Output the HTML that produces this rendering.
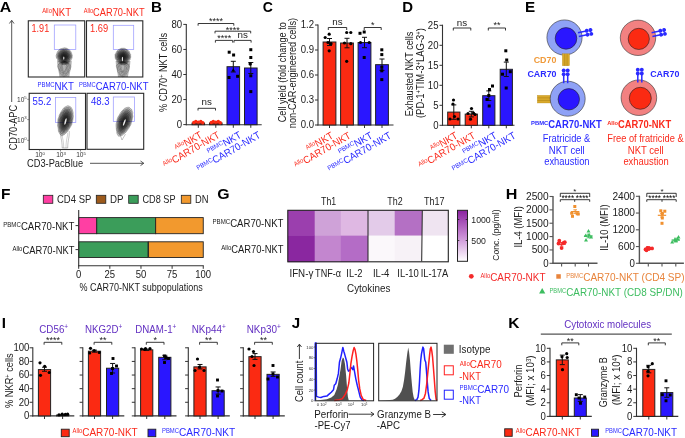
<!DOCTYPE html>
<html><head><meta charset="utf-8"><title>Figure</title>
<style>html,body{margin:0;padding:0;background:#fff;}svg{display:block;will-change:transform;}text{font-family:"Liberation Sans", sans-serif;}</style>
</head><body>
<svg width="685" height="438" viewBox="0 0 685 438" font-family="'Liberation Sans', sans-serif">
<rect width="685" height="438" fill="#fff"/>
<defs>
<radialGradient id="blobg" cx="0.5" cy="0.45" r="0.5"><stop offset="0" stop-color="#111"/><stop offset="0.35" stop-color="#2a2a2a"/><stop offset="0.7" stop-color="#777"/><stop offset="1" stop-color="#bbb" stop-opacity="0.3"/></radialGradient>
<radialGradient id="blobg2" cx="0.55" cy="0.42" r="0.55"><stop offset="0" stop-color="#0d0d0d"/><stop offset="0.3" stop-color="#262626"/><stop offset="0.65" stop-color="#666"/><stop offset="1" stop-color="#bbb" stop-opacity="0.3"/></radialGradient>
<linearGradient id="tailg" x1="0" y1="0" x2="0" y2="1"><stop offset="0" stop-color="#777"/><stop offset="1" stop-color="#ccc"/></linearGradient>
</defs>
<text x="-0.2" y="11.8" font-size="15.5" fill="#000" font-weight="bold" textLength="11.53" lengthAdjust="spacingAndGlyphs"><tspan font-size="15.5">A</tspan></text>
<line x1="11.7" y1="20.5" x2="11.7" y2="102" stroke="#444" stroke-width="0.9"/>
<path d="M9.4 23.5 L11.7 20.3 L14 23.5" fill="none" stroke="#444" stroke-width="0.9"/>
<text x="-0.46" y="0" font-size="10.58" fill="#222" textLength="45.5" lengthAdjust="spacingAndGlyphs" transform="translate(16.7 149.9) rotate(-90)"><tspan font-size="10.58">CD70-APC</tspan></text>
<text x="27.04" y="167.1" font-size="10.58" fill="#222" textLength="56.14" lengthAdjust="spacingAndGlyphs"><tspan font-size="10.58">CD3-PacBlue</tspan></text>
<line x1="90" y1="163.3" x2="143.7" y2="163.3" stroke="#444" stroke-width="0.9"/>
<path d="M140.5 161 L143.8 163.3 L140.5 165.6" fill="none" stroke="#444" stroke-width="0.9"/>
<rect x="28.3" y="20.8" width="56.4" height="56.2" fill="none" stroke="#2a2a2a" stroke-width="1.1"/>
<rect x="86.5" y="20.8" width="56.3" height="56.2" fill="none" stroke="#2a2a2a" stroke-width="1.1"/>
<rect x="29.2" y="93.3" width="56.3" height="56.2" fill="none" stroke="#2a2a2a" stroke-width="1.1"/>
<rect x="87" y="93.3" width="56.7" height="56" fill="none" stroke="#2a2a2a" stroke-width="1.1"/>
<text x="42.2" y="16" font-size="10.37" fill="#fa2a1c" textLength="28.8" lengthAdjust="spacingAndGlyphs"><tspan font-size="6.3" dy="-3.01">Allo</tspan><tspan font-size="10.37" dy="3.01">NKT</tspan></text>
<text x="83.7" y="16" font-size="10.37" fill="#fa2a1c" textLength="60.99" lengthAdjust="spacingAndGlyphs"><tspan font-size="6.3" dy="-3.01">Allo</tspan><tspan font-size="10.37" dy="3.01">CAR70-NKT</tspan></text>
<text x="37.53" y="89.6" font-size="10.37" fill="#2a2aff" textLength="36.47" lengthAdjust="spacingAndGlyphs"><tspan font-size="6.3" dy="-3.01">PBMC</tspan><tspan font-size="10.37" dy="3.01">NKT</tspan></text>
<text x="79.04" y="89.6" font-size="10.37" fill="#2a2aff" textLength="69.46" lengthAdjust="spacingAndGlyphs"><tspan font-size="6.3" dy="-3.01">PBMC</tspan><tspan font-size="10.37" dy="3.01">CAR70-NKT</tspan></text>
<text x="31.52" y="32" font-size="10.15" fill="#fa2a1c" textLength="17.7" lengthAdjust="spacingAndGlyphs"><tspan font-size="10.15">1.91</tspan></text>
<text x="90.1" y="32" font-size="10.15" fill="#fa2a1c" textLength="18.13" lengthAdjust="spacingAndGlyphs"><tspan font-size="10.15">1.69</tspan></text>
<text x="32.62" y="104.6" font-size="10.15" fill="#2a2aff" textLength="18.67" lengthAdjust="spacingAndGlyphs"><tspan font-size="10.15">55.2</tspan></text>
<text x="91.01" y="104.6" font-size="10.15" fill="#2a2aff" textLength="18.58" lengthAdjust="spacingAndGlyphs"><tspan font-size="10.15">48.3</tspan></text>
<rect x="54.3" y="25" width="21.5" height="24.5" fill="none" stroke="#9a9aff" stroke-width="0.75"/>
<rect x="113.3" y="25.3" width="20.4" height="24.3" fill="none" stroke="#9a9aff" stroke-width="0.75"/>
<rect x="55.5" y="97.5" width="20.3" height="25.1" fill="none" stroke="#9a9aff" stroke-width="0.75"/>
<rect x="113.3" y="97" width="21.2" height="24.6" fill="none" stroke="#9a9aff" stroke-width="0.75"/>
<path d="M57 60.8 C 57.5 68.8 59 71.8 59.4 76.8 L 69.4 76.8 C 69.8 71.8 71.4 68.8 71.8 60.8 Z" fill="#000" fill-opacity="0.3"/>
<path d="M64.16 61.52 L65.53 61.53 L66.52 61.96 L67.15 62.41 L68.04 62.8 L68.86 63.08 L69.78 64.31 L70.01 64.54 L70.7 65.88 L70.76 66.22 L70.71 67.73 L70.09 69.65 L68.87 71.14 L68.26 73.17 L67.37 74.26 L66.92 75.12 L66.01 75.63 L64.79 76.21 L64.44 76.54 L63.31 76.51 L62.59 75.82 L62.03 75.38 L60.77 74.25 L60.21 73.22 L59.63 71.28 L59.18 69.52 L58.21 68.29 L57.62 66.29 L57.63 65.65 L58.5 64.82 L59.06 63.9 L59.55 63.48 L60.25 62.82 L61.37 62.76 L62.09 62.2 L62.84 62.03 Z" fill="none" stroke="#222" stroke-width="0.35" opacity="0.75"/>
<path d="M64.42 62.19 L65.48 61.7 L66.02 62.21 L66.57 62.37 L67.44 62.55 L68.01 63.62 L68.59 63.85 L69.19 65.06 L69.18 65.48 L69.64 66.61 L69.55 68.15 L68.68 69.31 L68.2 71.11 L68.07 71.81 L66.8 72.98 L66.16 74.08 L65.76 74.57 L64.6 75.1 L64.2 75.35 L63.97 75.32 L62.93 74.85 L62.36 73.74 L61.87 73.42 L61.19 72.32 L60.2 70.72 L59.43 69.49 L58.96 67.52 L58.77 66.03 L58.95 65.16 L58.92 64.48 L59.39 63.94 L59.86 63.71 L60.98 62.57 L61.45 62.28 L62.38 61.77 L63.66 62.26 Z" fill="none" stroke="#222" stroke-width="0.35" opacity="0.75"/>
<path d="M64.27 61.79 L64.7 61.55 L65.61 61.88 L66.66 62.13 L66.62 63.21 L67.54 63.12 L67.97 63.67 L68.27 65.14 L68.73 65.68 L68.31 66.19 L67.99 67.85 L67.94 69.16 L67.35 69.93 L67.25 71.64 L66.76 72.44 L66.2 73.16 L65.18 73.55 L64.73 73.51 L63.92 73.82 L63.56 74.04 L63.57 73.49 L63 73.36 L62.48 72.09 L61.38 71.03 L60.87 69.91 L60.79 69.25 L60.62 67.62 L60.22 66.54 L59.83 65.65 L60.68 64.99 L60.86 64.03 L60.83 63.64 L61.47 63.09 L62.58 62.32 L62.78 62.43 L63.75 61.6 Z" fill="none" stroke="#222" stroke-width="0.35" opacity="0.75"/>
<path d="M64 61.52 L65.16 62.11 L65.08 62.33 L66.23 62.53 L66.17 62.89 L66.38 63.02 L67.36 64.17 L67.23 65.11 L67.3 65.82 L67.66 66.07 L67.02 67.25 L66.76 68.56 L66.46 69.44 L66 70.74 L65.79 71.17 L65.58 72.17 L65.05 72.65 L64.71 72.63 L64.32 72.31 L63.85 72.35 L63.09 72.55 L62.82 71.82 L62.87 71.25 L62.17 70.43 L62 69.73 L61.32 68.54 L61.18 67.23 L61.42 66.31 L61.3 65.73 L61.72 64.72 L61.71 64.05 L61.93 63.56 L62.27 62.88 L62.73 62.76 L63.4 62.37 L64.12 61.68 Z" fill="none" stroke="#222" stroke-width="0.35" opacity="0.75"/>
<path d="M64.35 62.15 L64.92 61.58 L64.68 62.03 L64.96 62.2 L65.24 62.99 L66.06 63.73 L65.76 64.22 L66.31 64.48 L66.58 65.89 L66.08 66.66 L66.1 67.18 L66.41 68.31 L65.54 68.8 L65.6 69.45 L65.1 70.06 L65.26 70.33 L64.87 71.04 L64.18 71.19 L64.4 71.41 L63.69 71.71 L64.01 71.47 L63.2 70.53 L62.89 70.43 L62.83 69.28 L62.72 69.18 L62.84 67.85 L62.14 67.52 L62.36 66.46 L62 65.16 L62.57 64.7 L62.23 64.4 L62.88 63.65 L62.68 63.14 L62.95 62.69 L63.58 61.94 L64 62.21 Z" fill="none" stroke="#222" stroke-width="0.35" opacity="0.75"/>
<path d="M64.18 47.81 L65.56 47.98 L66.58 48.26 L67.71 48.81 L68.91 49.58 L70.09 50.47 L70.77 51.47 L71.35 52.56 L71.78 53.84 L72.32 55.45 L72.14 56.79 L72.11 57.85 L71.48 59.24 L70.62 60.6 L69.77 61.51 L69.05 62.7 L67.97 63.44 L67.23 64 L66.14 64.33 L65.02 64.52 L64.09 64.92 L63.24 64.53 L62.21 64.58 L61.66 64.01 L60.44 63.14 L59.54 62.44 L58.61 61.48 L57.86 60.66 L57.52 59.3 L56.58 58.28 L56.2 56.73 L56.15 55.36 L56.68 54.08 L57.02 52.81 L57.58 51.51 L58.44 50.53 L59.37 49.44 L60.57 48.83 L61.87 48.45 L63.17 48.19 Z" fill="#000" stroke="#222" stroke-width="0.3" fill-opacity="0.21"/>
<path d="M64.41 49.07 L65.37 48.89 L66.77 49.09 L67.68 49.81 L68.3 50.56 L69.59 51.26 L70.24 52.3 L70.53 53.22 L71.15 54.52 L71.56 55.72 L71.54 57 L71.22 58.02 L70.48 58.79 L69.8 60 L69.07 61.2 L68.52 61.96 L67.74 62.72 L66.84 62.97 L66.14 63.77 L65.15 63.93 L64.38 63.78 L63.57 63.79 L62.39 63.53 L61.87 63.07 L61.04 62.86 L60.11 61.83 L59.32 61.12 L58.75 60.13 L58.05 58.81 L57.29 57.8 L57.22 56.7 L57.22 55.32 L57.23 54.24 L57.97 53.3 L58.56 52.04 L59.22 51.18 L60.05 50.2 L61.23 49.59 L62.31 49.49 L62.93 48.96 Z" fill="#000" stroke="#222" stroke-width="0.3" fill-opacity="0.21"/>
<path d="M64.46 49.99 L65.28 49.73 L66.13 50.33 L67.06 50.57 L67.88 51.12 L69.05 51.64 L69.64 52.67 L70.2 53.71 L70.25 54.82 L70.61 55.46 L70.45 56.8 L70.35 57.7 L69.74 58.7 L69.26 59.88 L68.47 60.69 L68.2 61.14 L67.51 62.08 L66.76 62.4 L65.74 62.83 L65.3 63.17 L64.23 63.16 L63.43 62.9 L62.59 63.05 L61.93 62.72 L61.17 61.86 L60.58 61.17 L59.82 60.79 L59.44 59.86 L58.75 58.98 L58.45 57.83 L58.01 56.57 L58.09 55.67 L58.34 54.7 L58.49 53.38 L59.34 52.48 L59.76 51.74 L60.44 51.22 L61.63 50.41 L62.4 50 L63.33 49.79 Z" fill="#000" stroke="#222" stroke-width="0.3" fill-opacity="0.21"/>
<path d="M64.13 50.47 L65.03 50.92 L66.03 50.8 L67.05 51.56 L67.57 51.64 L68.11 52.24 L68.75 52.97 L69.16 53.88 L69.66 55.09 L69.96 55.79 L69.86 56.81 L69.55 57.6 L69 58.42 L68.96 59.16 L68.17 60.16 L67.74 60.62 L66.81 61.2 L66.23 61.76 L65.85 62.3 L65.15 62.09 L64.07 62.5 L63.84 62.32 L63.02 61.88 L62.27 62 L61.84 61.51 L61.28 60.63 L60.24 59.92 L59.89 59.43 L59.61 58.64 L59.06 57.81 L58.68 56.83 L58.54 55.98 L58.84 55.11 L59.38 53.91 L59.58 53.06 L60.41 52.54 L60.81 51.6 L61.77 51.35 L62.51 50.8 L63.47 50.47 Z" fill="#000" stroke="#222" stroke-width="0.3" fill-opacity="0.21"/>
<path d="M64.2 51.5 L65.28 51.66 L65.98 51.77 L66.35 51.97 L67.35 52.63 L67.6 52.83 L68.18 53.78 L68.54 54.28 L68.95 55.38 L68.9 55.74 L69.02 56.76 L68.95 57.4 L68.66 58.4 L68.09 58.83 L67.85 59.53 L67.25 60.06 L66.41 60.81 L65.89 61.3 L65.43 61.21 L64.73 61.5 L64.38 61.82 L63.56 61.49 L63.03 61.6 L62.43 60.85 L61.83 60.63 L61.7 60.39 L61.1 59.87 L60.72 58.89 L59.93 58.5 L59.87 57.32 L59.58 56.74 L59.5 55.89 L59.57 54.92 L59.91 54.33 L60.64 53.51 L61.14 52.92 L61.41 52.69 L62.28 52.06 L62.59 51.77 L63.49 51.79 Z" fill="#000" stroke="#222" stroke-width="0.3" fill-opacity="0.21"/>
<path d="M64.15 52.33 L65.12 52.22 L65.49 52.77 L66.25 52.65 L66.42 53.02 L67.34 53.57 L67.66 54.41 L67.78 54.69 L68.33 55.5 L68.13 56.22 L68.21 56.69 L67.85 57.55 L68.02 58.1 L67.68 58.38 L66.93 59.14 L66.86 59.86 L66.12 59.91 L65.68 60.36 L65.46 60.45 L64.92 60.87 L64.46 60.94 L63.88 60.66 L63.27 60.54 L63.03 60.15 L62.27 60.16 L61.85 59.41 L61.31 59.18 L61.05 58.86 L60.98 58.28 L60.39 57.22 L60.1 56.8 L60.45 56.09 L60.36 55.4 L60.8 54.89 L61.19 54.39 L61.55 53.5 L62.12 53.14 L62.52 52.82 L63.18 52.46 L63.55 52.33 Z" fill="#000" stroke="#222" stroke-width="0.3" fill-opacity="0.21"/>
<path d="M64.13 53.47 L64.84 53.24 L65.24 53.7 L65.76 53.53 L66.34 54.03 L66.81 54.11 L66.88 54.89 L67.32 55.41 L67.11 55.61 L67.27 56.09 L67.74 56.84 L67.55 57.24 L67.29 57.76 L66.71 58.39 L66.73 58.48 L66.21 59.12 L65.66 59.32 L65.25 59.5 L64.93 59.89 L64.75 59.81 L64.06 59.91 L64.01 59.8 L63.45 59.7 L63.32 59.68 L62.58 59.19 L62.38 59.09 L62.16 58.48 L61.6 58.35 L61.45 57.68 L61.17 57.53 L61.01 56.83 L61.07 56.21 L61.44 55.96 L61.38 55.05 L61.83 54.58 L61.79 54.51 L62.38 54.11 L62.8 53.86 L63.29 53.28 L63.56 53.35 Z" fill="#000" stroke="#222" stroke-width="0.3" fill-opacity="0.21"/>
<path d="M64.37 54.36 L64.47 54.25 L64.98 54.29 L65.21 54.34 L65.72 54.88 L65.8 54.93 L66.39 55.48 L66.29 55.41 L66.8 56.22 L66.66 56.16 L66.91 56.74 L66.78 57.24 L66.57 57.37 L66.34 57.75 L65.91 58.38 L65.86 58.34 L65.28 58.69 L65.16 58.88 L64.68 58.96 L64.7 59.37 L64.07 59.23 L64.15 58.94 L63.9 58.89 L63.5 58.96 L63.24 58.64 L62.86 58.54 L62.61 58.29 L62.38 57.86 L61.96 57.6 L62.02 57.04 L62.03 56.94 L61.91 56.23 L62 55.79 L61.98 55.57 L62.15 55.22 L62.61 54.7 L62.96 54.46 L63.33 54.59 L63.56 54.07 L63.93 54.13 Z" fill="#000" stroke="#222" stroke-width="0.3" fill-opacity="0.21"/>
<path d="M64.53 54.86 L64.73 55.31 L64.91 55.28 L64.87 55.47 L65.24 55.6 L65.64 55.39 L65.74 55.98 L65.51 55.93 L65.95 56.09 L66.08 56.41 L66.06 56.62 L65.82 57.26 L65.56 57.18 L65.57 57.44 L65.17 57.58 L65.06 58.15 L65.14 58.29 L64.7 58.37 L64.48 58.34 L64.56 58.31 L64.49 58.43 L64.15 58.57 L63.73 58.57 L63.8 58.17 L63.7 57.98 L63.61 57.97 L63.13 57.87 L63.01 57.36 L63.02 57.07 L62.94 56.93 L62.77 57.04 L62.76 56.61 L62.68 56.01 L62.64 55.83 L63.06 55.73 L63.17 55.75 L63.18 55.24 L63.65 54.99 L63.56 55.05 L63.85 54.99 Z" fill="#000" stroke="#222" stroke-width="0.3" fill-opacity="0.21"/>
<ellipse cx="63.8" cy="58.1" rx="0.6" ry="1.6" fill="#fff" opacity="0.9"/>
<path d="M115.6 61 C 116.1 69 117.6 72 118 77 L 128 77 C 128.4 72 130 69 130.4 61 Z" fill="#000" fill-opacity="0.3"/>
<path d="M122.68 62.07 L124.08 61.83 L125.19 62.25 L125.81 62.95 L126.81 62.77 L127.48 63.72 L128.74 64.48 L128.84 64.77 L128.81 65.83 L129.35 66.38 L129.05 68.24 L128.75 70.21 L127.55 71.97 L126.65 73.15 L126.15 74.18 L125.05 75.64 L124.18 76.22 L124.09 76.36 L122.66 76.89 L122.07 76.76 L121.48 75.92 L120.24 75.26 L119.21 74.7 L119.01 73.29 L117.66 71.93 L117.6 70 L117.06 68.25 L116.28 66.18 L116.38 65.35 L116.75 65.16 L117.51 64.53 L118.17 63.42 L118.83 63 L119.93 62.62 L120.52 62.38 L122.16 61.84 Z" fill="none" stroke="#222" stroke-width="0.35" opacity="0.75"/>
<path d="M123.2 61.61 L123.63 61.86 L124.91 62.63 L125.75 62.46 L126.61 62.92 L126.75 63.93 L127.59 64.4 L128.01 65.34 L128.1 65.99 L128.36 66.79 L127.84 68.24 L127.51 69.42 L126.69 71.1 L125.97 72.61 L125.37 73.02 L124.66 74.64 L124.16 74.67 L123.22 75 L123.05 75.61 L122.36 75.55 L121.17 75.03 L120.71 74.55 L120.4 73.71 L119.15 72.58 L119.22 71.36 L118.03 69.34 L117.6 67.69 L117.88 66.75 L117.79 65.98 L118.02 64.79 L117.99 63.93 L119.05 63.37 L119.35 62.99 L119.87 62.41 L120.91 62.44 L121.87 61.93 Z" fill="none" stroke="#222" stroke-width="0.35" opacity="0.75"/>
<path d="M123.27 62 L123.91 62.16 L123.96 62.2 L124.95 62.82 L125.48 63.22 L126.15 63.38 L126.83 63.92 L127.1 64.7 L126.64 65.48 L127.31 66.88 L126.46 67.83 L126.5 69.37 L125.83 70.35 L125.48 71.71 L124.89 72.75 L124.37 72.94 L124.16 73.73 L123.14 74.19 L122.56 74.43 L122.51 74.31 L121.9 73.62 L121.18 73.08 L121.03 72.07 L120.51 71.07 L119.48 70.16 L119.61 69.13 L118.85 68.14 L118.49 66.47 L118.79 65.92 L119.16 65.08 L119.14 64.11 L119.41 63.88 L120.33 63.25 L120.54 62.55 L121.68 62.33 L121.87 62.04 Z" fill="none" stroke="#222" stroke-width="0.35" opacity="0.75"/>
<path d="M123.21 61.79 L123.19 61.91 L124.12 62.55 L124.17 62.33 L124.69 62.91 L125.29 63.34 L125.45 64 L126.19 65.14 L125.63 66.09 L125.68 66.41 L126.21 67.85 L125.75 68.64 L125.01 69.81 L124.58 70.38 L124.42 71.03 L124.03 72.28 L123.87 72.51 L123.41 72.77 L122.61 72.98 L122.42 73 L122.42 72.46 L121.74 72.24 L121.23 71.19 L121.08 70.92 L120.77 69.86 L120.52 68.83 L120.09 67.57 L119.65 66.6 L119.53 65.65 L120.21 65.13 L120.32 64.05 L120.46 63.57 L121 62.98 L121.49 62.95 L121.59 62.39 L122.58 61.98 Z" fill="none" stroke="#222" stroke-width="0.35" opacity="0.75"/>
<path d="M122.89 62.38 L122.88 62.1 L123.31 62.5 L124.25 62.62 L123.87 63.11 L124.46 63.78 L124.64 64.36 L125.04 64.98 L124.8 66.08 L124.67 66.65 L124.7 67.6 L124.32 68.63 L124.3 68.7 L124.01 69.7 L123.55 70.34 L123.62 71.08 L123.31 71.1 L122.94 71.72 L123.25 71.62 L122.41 71.76 L122.29 71.06 L121.82 71.14 L122.11 70.51 L121.59 69.83 L121.17 69.42 L121.06 68.36 L121.27 67.64 L120.87 66.34 L120.97 65.42 L121.29 64.84 L121.45 64.06 L121.27 63.41 L121.56 62.8 L121.5 62.78 L122.04 62.07 L122.39 62.05 Z" fill="none" stroke="#222" stroke-width="0.35" opacity="0.75"/>
<path d="M122.86 48.27 L124.23 48.24 L125.59 48.81 L126.31 49.32 L127.81 50.02 L128.38 50.94 L129.44 51.58 L129.78 53.23 L130.59 54.16 L130.6 55.44 L130.77 57.14 L130.42 58.08 L130.12 59.62 L129.05 60.83 L128.48 61.84 L127.64 62.85 L126.8 63.64 L125.57 64.22 L124.8 64.73 L123.81 65.09 L122.93 64.88 L121.82 64.72 L121.01 64.39 L120.06 63.95 L119.14 63.47 L118.26 62.84 L117.13 61.87 L116.56 60.66 L115.96 59.64 L115.24 58.21 L115.13 56.79 L115.07 55.69 L115.06 54.34 L115.86 53.22 L116.34 52.07 L117.25 50.77 L118.4 49.65 L119.38 49.22 L120.35 48.81 L121.58 48.3 Z" fill="#000" stroke="#222" stroke-width="0.3" fill-opacity="0.21"/>
<path d="M122.91 49.22 L123.88 49.15 L125.09 49.49 L126.33 49.84 L127.3 50.54 L127.99 51.29 L128.73 52.58 L129.39 53.55 L129.66 54.46 L129.91 55.8 L130.17 57.14 L129.5 58.24 L129.41 59.25 L128.36 60.17 L127.62 61.08 L127.3 62.15 L126.36 62.97 L125.65 63.47 L124.65 63.91 L123.85 64.16 L122.99 64.06 L122.14 64.09 L121.34 63.65 L120.2 63.18 L119.66 63.03 L118.79 62.03 L118.09 61.38 L117.24 60.15 L116.48 59.19 L115.98 58.09 L115.77 57.22 L115.57 55.79 L115.82 54.36 L116.64 53.44 L117.28 52.32 L117.57 51.34 L118.71 50.81 L119.87 49.93 L120.63 49.27 L121.85 49.03 Z" fill="#000" stroke="#222" stroke-width="0.3" fill-opacity="0.21"/>
<path d="M122.73 49.72 L123.65 50.14 L124.69 50.54 L125.6 50.91 L126.48 51.06 L127.54 51.89 L128.19 52.71 L128.38 53.94 L129.09 55 L129.34 55.69 L129.36 57.1 L128.95 58.22 L128.39 59.21 L128.06 59.66 L127.07 60.84 L126.78 61.32 L125.81 62.29 L124.99 62.88 L124.4 62.87 L123.59 63.36 L122.87 63.49 L121.97 63.47 L121.32 63.16 L120.71 62.66 L119.84 62.32 L119.4 61.67 L118.52 60.66 L117.63 60.14 L117.39 59.14 L116.74 58.05 L116.74 57.17 L116.63 55.8 L116.78 55.02 L117.14 53.9 L117.77 53.06 L118.53 51.91 L118.89 51.19 L119.96 50.77 L121.08 50.5 L121.67 50.21 Z" fill="#000" stroke="#222" stroke-width="0.3" fill-opacity="0.21"/>
<path d="M123.06 51.02 L123.81 50.8 L124.81 51.3 L125.53 51.72 L126.12 51.81 L126.89 52.79 L127.28 53.5 L128.11 54.07 L128.28 55.19 L128.41 55.89 L128.38 57.13 L128.36 57.86 L127.61 58.88 L127.46 59.41 L126.8 60.49 L126.35 60.97 L125.51 61.58 L124.72 61.84 L124.06 62.43 L123.49 62.56 L122.85 62.61 L122.06 62.3 L121.83 62.26 L120.73 62.06 L120.42 61.36 L119.69 60.88 L119.04 60.05 L118.24 59.79 L118.17 58.72 L117.62 57.76 L117.44 56.96 L117.59 56.17 L117.73 55.33 L117.79 53.97 L118.22 53.22 L118.73 52.42 L119.64 52.2 L120.34 51.74 L121.37 50.92 L122.07 50.86 Z" fill="#000" stroke="#222" stroke-width="0.3" fill-opacity="0.21"/>
<path d="M122.71 51.95 L123.53 51.82 L124.45 52.21 L125.16 52.24 L125.7 52.56 L126.53 53.51 L126.64 53.67 L127.05 54.53 L127.67 55.57 L127.81 55.95 L127.84 57.1 L127.53 57.99 L126.89 58.31 L126.82 59.4 L126.3 59.72 L125.74 60.52 L124.95 60.8 L124.47 61.09 L124.02 61.4 L123.33 61.56 L122.99 61.56 L122.44 61.59 L121.54 61.78 L121.07 61.49 L120.83 61.08 L119.93 60.37 L119.39 60.04 L119.28 59.24 L118.66 58.4 L118.51 57.74 L118.16 56.82 L118.02 55.95 L118.44 55.4 L118.45 54.79 L118.9 53.85 L119.33 53.15 L120.25 52.65 L120.55 52.29 L121.33 52.18 L121.96 52.02 Z" fill="#000" stroke="#222" stroke-width="0.3" fill-opacity="0.21"/>
<path d="M122.68 52.8 L123.61 52.51 L124.12 52.71 L124.59 52.93 L125.18 53.69 L125.98 54.1 L125.93 54.31 L126.66 54.78 L126.82 55.54 L127.09 56.07 L127.05 56.92 L126.52 57.38 L126.58 58.25 L125.9 58.78 L125.87 59.21 L125.26 59.65 L124.62 60.37 L124.42 60.41 L123.63 60.6 L123.43 60.95 L122.79 60.85 L122.48 61.05 L122.11 60.85 L121.34 60.35 L121.14 60.19 L120.68 59.61 L120.29 59.27 L119.91 59 L119.39 57.99 L119.31 57.61 L119.09 56.88 L118.79 56.48 L119.03 55.47 L119.27 55.05 L119.42 54.42 L120.04 53.9 L120.36 53.55 L121.24 53.26 L121.57 52.92 L122.21 52.78 Z" fill="#000" stroke="#222" stroke-width="0.3" fill-opacity="0.21"/>
<path d="M122.68 53.67 L123.63 53.52 L123.9 53.67 L124.37 53.62 L125.01 54.01 L125 54.31 L125.36 55.09 L125.52 55.2 L126.04 55.76 L125.82 56.5 L126.14 57.01 L126.04 57.3 L125.89 58.1 L125.2 58.26 L125.11 58.88 L124.65 59.07 L124.35 59.41 L124.08 60.03 L123.48 60.08 L123.4 59.99 L123.06 60.42 L122.47 60.12 L122.32 60.06 L121.72 60.07 L121.54 59.51 L120.91 59.18 L120.66 59.12 L120.52 58.66 L120.25 58.16 L119.64 57.51 L119.93 57.22 L119.61 56.41 L119.92 55.84 L120.06 55.19 L120.28 54.93 L120.4 54.33 L121.25 54.29 L121.67 53.93 L122.07 53.84 L122.59 53.29 Z" fill="#000" stroke="#222" stroke-width="0.3" fill-opacity="0.21"/>
<path d="M122.97 54.24 L123.36 54.28 L123.66 54.7 L124.05 54.52 L124.32 54.83 L124.82 55.03 L124.74 55.52 L124.85 55.85 L125.41 56.19 L125.15 56.57 L125.32 56.82 L124.99 57.19 L124.9 57.69 L124.69 57.96 L124.35 58.43 L124.47 58.75 L124.06 59.02 L123.6 59.24 L123.45 59.31 L123.24 59.35 L122.81 59.27 L122.48 59.38 L122.28 59.33 L121.81 59.06 L121.96 58.81 L121.53 58.69 L121.14 58.65 L120.9 58.23 L120.62 57.53 L120.81 57.35 L120.28 56.94 L120.5 56.7 L120.42 56.05 L120.99 55.92 L120.79 55.37 L121.13 55.22 L121.55 55.04 L121.97 54.66 L122.28 54.61 L122.65 54.38 Z" fill="#000" stroke="#222" stroke-width="0.3" fill-opacity="0.21"/>
<path d="M123.04 55.34 L123.36 55.08 L123.58 55.08 L123.76 55.47 L123.84 55.81 L124.07 55.71 L124.34 56.15 L124.38 56.14 L124.4 56.44 L124.59 56.62 L124.45 57.03 L124.36 57.16 L124.45 57.67 L124.16 57.7 L123.85 57.84 L123.65 58.17 L123.69 58.09 L123.67 58.34 L123.45 58.69 L123.32 58.43 L122.86 58.81 L122.47 58.35 L122.56 58.52 L122.55 58.56 L122.17 58.54 L121.98 58.14 L121.89 57.89 L121.57 57.77 L121.42 57.72 L121.47 57.26 L121.1 56.94 L121.27 56.76 L121.42 56.65 L121.71 56.19 L121.58 56.03 L122.02 55.68 L121.97 55.73 L122.01 55.34 L122.64 55.49 L122.66 55.07 Z" fill="#000" stroke="#222" stroke-width="0.3" fill-opacity="0.21"/>
<ellipse cx="122.4" cy="59.1" rx="0.6" ry="2.4" fill="#fff" opacity="0.9"/>
<path d="M60.2 131 C 60.2 137 62.2 140 62.2 148 L 67.7 148 C 67.7 140 69.7 137 69.2 131" fill="none" stroke="#555" stroke-width="0.35"/>
<path d="M61.7 133 C 61.7 137 63.7 139 63.7 148" fill="none" stroke="#666" stroke-width="0.3"/>
<path d="M67.7 133 C 67.7 137 66 139 66 148" fill="none" stroke="#666" stroke-width="0.3"/>
<path d="M69.12 106.1 L70.03 106.64 L71.02 107.08 L71.45 107.92 L72.24 109.32 L72.62 110.61 L73.13 112.57 L73.14 114.6 L73.41 116.18 L73.07 118.61 L72.72 120.7 L72.16 122.64 L71.69 124.86 L70.7 126.57 L69.54 128.53 L68.33 130.21 L67.32 131.91 L66.32 132.92 L65.07 133.8 L64.38 134.65 L63.1 135.14 L62.35 135.76 L61.59 135.72 L60.69 134.93 L60.33 134.53 L59.72 133.62 L58.95 132.33 L58.4 131.2 L58.34 129.34 L58 127.5 L57.58 125.72 L57.76 123.74 L57.79 121.41 L57.95 118.96 L58.79 117.31 L59.23 115.22 L60.4 113.07 L61.18 111.6 L62.17 110.02 L63.22 108.38 L64.61 107.27 L65.49 106.73 L66.73 106.21 L67.8 105.67 Z" fill="#000" stroke="#222" stroke-width="0.3" fill-opacity="0.2"/>
<path d="M68.54 107.3 L69.71 107.79 L70.34 108.29 L70.98 109.31 L71.54 110.26 L71.76 111.94 L72.25 113.21 L72.34 114.9 L72.41 116.59 L72.45 118.68 L71.88 120.73 L71.49 122.45 L71.11 124.26 L69.98 126.28 L69.3 127.63 L68.04 129.34 L67.03 130.8 L65.97 131.94 L65.25 132.58 L64.32 133.25 L63.58 133.82 L62.84 134.23 L61.9 133.96 L61.36 133.67 L60.91 133.09 L60.16 132.42 L59.55 131.44 L59.22 130.11 L59.03 128.48 L58.73 126.7 L58.38 125.26 L58.41 123.31 L58.37 121.31 L58.67 119.37 L59.24 117.24 L59.89 115.49 L60.52 113.97 L61.49 112.25 L62.69 111.1 L63.66 109.94 L64.39 108.59 L65.34 108.05 L66.71 107.51 L67.56 107.44 Z" fill="#000" stroke="#222" stroke-width="0.3" fill-opacity="0.2"/>
<path d="M68.33 108.87 L69.17 109.26 L69.8 109.72 L70.08 110.8 L70.92 111.78 L71.06 112.57 L71.38 114.02 L71.57 115.62 L71.47 117.16 L71.66 118.85 L71.47 120.78 L71.08 122.34 L70.22 124.11 L69.49 125.3 L68.81 127.18 L67.76 128.09 L67.09 129.63 L65.87 130.38 L64.99 131.5 L64.21 132.22 L63.82 132.31 L63.05 132.65 L62.38 132.83 L61.65 132.15 L61.41 131.88 L60.9 131.28 L60.38 130.37 L60.02 129.03 L59.43 127.76 L59.42 126.25 L59.56 124.54 L59.44 122.81 L59.36 121.46 L59.33 119.56 L60.15 117.99 L60.59 116.12 L61.02 114.58 L61.98 113.13 L62.78 111.84 L63.79 111.08 L64.52 109.95 L65.56 109.44 L66.69 109.03 L67.21 109.05 Z" fill="#000" stroke="#222" stroke-width="0.3" fill-opacity="0.2"/>
<path d="M67.64 110.46 L68.39 110.89 L69.13 111.38 L69.49 111.99 L70.18 112.81 L70.56 114.06 L70.56 114.9 L70.82 116.2 L70.68 117.61 L70.59 119.3 L70.57 120.55 L70.14 122.22 L69.61 123.47 L68.82 124.7 L68.45 126.43 L67.26 127.47 L66.94 128.55 L65.76 129.31 L65.21 129.95 L64.58 130.44 L64.03 131.16 L63.23 131.45 L62.76 131.09 L62.07 130.74 L61.42 130.58 L61.47 129.81 L60.75 129.06 L60.73 128.28 L60.16 126.98 L60.3 125.75 L60 124.04 L60.18 122.7 L59.97 121.26 L60.07 119.89 L60.53 118.01 L61.13 116.9 L61.85 115.63 L62.53 114.52 L63.12 113.16 L63.75 112.08 L64.78 111.27 L65.63 110.76 L66.22 110.77 L66.94 110.13 Z" fill="#000" stroke="#222" stroke-width="0.3" fill-opacity="0.2"/>
<path d="M67.46 111.82 L68.21 112.01 L68.69 112.86 L69.18 113.24 L69.3 114.04 L69.74 114.85 L69.86 115.85 L70.08 117.2 L70.29 118.11 L69.88 119.44 L69.83 120.71 L69.41 121.84 L68.92 123.23 L68.61 124.67 L67.93 125.78 L67.37 126.62 L66.7 127.22 L65.92 128.24 L65.1 128.81 L64.82 129.33 L64.13 129.53 L63.38 129.93 L62.83 129.52 L62.68 129.52 L61.97 129.18 L61.76 128.62 L61.48 127.89 L61.31 126.99 L60.9 125.84 L61.07 125.01 L60.55 123.88 L60.67 122.28 L60.82 121.1 L60.88 119.95 L61.11 118.65 L61.51 117.39 L62.31 116.08 L62.8 115 L63.34 114.45 L64.08 113.59 L64.93 112.67 L65.67 112.51 L65.91 112.15 L66.8 111.74 Z" fill="#000" stroke="#222" stroke-width="0.3" fill-opacity="0.2"/>
<path d="M67.29 113.57 L67.74 113.54 L68.2 113.86 L68.28 114.44 L68.47 115.14 L68.85 115.77 L69.25 116.74 L69.41 117.79 L69.42 118.77 L69.33 119.97 L68.83 120.89 L68.68 122 L68.42 123.07 L67.72 123.74 L67.43 125 L66.99 125.39 L66.38 126.15 L65.72 127.13 L64.97 127.66 L64.82 127.81 L64.09 128.11 L63.94 128.38 L63.26 128 L62.79 128.21 L62.53 127.78 L62.27 127.4 L62.13 126.55 L62.1 126.09 L61.8 125.37 L61.88 124.1 L61.49 123.1 L61.44 122.43 L61.72 120.99 L61.42 120.22 L62.01 119.01 L62.31 117.85 L62.89 117.05 L63.36 116.28 L63.53 115.26 L64.08 114.89 L64.93 113.98 L65.27 113.68 L65.96 113.57 L66.51 113.34 Z" fill="#000" stroke="#222" stroke-width="0.3" fill-opacity="0.2"/>
<path d="M66.45 114.96 L67.07 114.89 L67.37 115.66 L67.58 115.6 L68.13 116.24 L68.1 116.9 L68.23 117.61 L68.39 118.58 L68.73 118.99 L68.37 120.13 L68.4 121.03 L68.12 121.8 L67.7 122.39 L67.45 123.5 L67.13 124.14 L66.38 124.77 L66.18 125.3 L65.71 125.72 L65.24 126.16 L64.61 126.39 L64.28 126.95 L64.08 126.77 L63.66 126.66 L63.43 126.49 L62.91 126.55 L62.94 126.03 L62.81 125.5 L62.47 124.77 L62.36 124.24 L62.43 123.68 L62.49 122.81 L62.42 122.09 L62.09 120.94 L62.31 120.53 L62.47 119.55 L62.79 118.79 L63 117.79 L63.82 117.08 L63.95 116.26 L64.32 115.83 L65.04 115.44 L65.36 115.07 L65.84 115.22 L66.38 114.81 Z" fill="#000" stroke="#222" stroke-width="0.3" fill-opacity="0.2"/>
<path d="M66.38 116.74 L66.72 116.42 L66.99 117.04 L67.08 116.92 L67.16 117.47 L67.63 118.06 L67.8 118.36 L67.51 119.11 L67.71 119.59 L67.69 120.19 L67.29 120.79 L67.12 121.54 L67.02 122.11 L66.89 122.6 L66.54 123.01 L66.38 123.83 L66.14 124.04 L65.55 124.71 L65.17 124.68 L64.78 124.93 L64.8 125.14 L64.51 125.38 L64.12 125.41 L63.9 125.35 L63.76 125 L63.66 124.71 L63.44 124.6 L63.39 123.96 L63.2 123.78 L63.05 122.86 L62.95 122.59 L62.85 121.47 L62.96 121.18 L63.2 120.43 L63.5 119.75 L63.62 119.05 L63.52 118.4 L63.78 118.06 L64.37 117.49 L64.87 117.23 L64.85 116.72 L65.39 116.91 L65.57 116.25 L66.17 116.37 Z" fill="#000" stroke="#222" stroke-width="0.3" fill-opacity="0.2"/>
<path d="M66.18 118.05 L66.23 118.01 L66.47 118.23 L66.34 118.59 L66.39 118.73 L66.48 118.98 L66.68 119.47 L66.59 119.65 L66.72 120.27 L66.99 120.61 L66.62 120.77 L66.53 121.3 L66.37 121.58 L66.38 122.24 L65.91 122.72 L65.71 122.83 L65.42 123.27 L65.62 123.32 L65.29 123.79 L64.92 123.65 L64.76 124.06 L64.45 123.97 L64.53 123.9 L64.32 124.04 L64.01 123.87 L63.98 123.65 L64.19 123.19 L64.01 123.29 L63.78 122.42 L63.52 122.5 L63.44 122.06 L63.52 121.57 L63.57 120.86 L63.9 120.47 L63.76 120.4 L64.09 120.02 L64.49 119.26 L64.23 119.18 L64.75 118.56 L64.86 118.36 L65.07 118.08 L64.99 118.3 L65.38 118.17 L65.56 117.92 Z" fill="#000" stroke="#222" stroke-width="0.3" fill-opacity="0.2"/>
<ellipse cx="65.5" cy="121.5" rx="0.8" ry="3.4" fill="#fff" opacity="0.9" transform="rotate(14 65.5 121.5)"/>
<path d="M119.5 133 L 122 140 L 125.5 134" fill="none" stroke="#555" stroke-width="0.35"/>
<path d="M129.14 107.34 L130.05 107.98 L130.84 108.79 L131.78 109.62 L132.15 111.09 L132.78 112.65 L132.51 114.55 L132.86 116.43 L132.48 118.06 L132.13 120.08 L131.42 122.36 L130.9 124.54 L129.93 126.17 L128.82 128.33 L127.55 129.95 L126.29 131.72 L125.17 133 L123.8 133.89 L122.53 135.15 L121.53 135.56 L120.59 135.88 L119.99 136.08 L118.85 136.31 L118.04 135.69 L117.57 134.84 L117.03 133.78 L116.83 132.97 L116.7 131.17 L116.37 129.58 L116.23 127.83 L116.03 125.98 L116.08 123.74 L116.8 121.66 L117.01 119.72 L117.72 117.44 L118.96 115.45 L119.99 113.63 L121.01 112.05 L122.33 110.5 L123.51 109.38 L124.55 108.38 L125.75 107.85 L127.08 107.41 L128.27 107.22 Z" fill="#000" stroke="#222" stroke-width="0.3" fill-opacity="0.2"/>
<path d="M128.7 108.68 L129.81 109.44 L130.35 110.08 L131.13 110.95 L131.19 112.3 L131.66 113.64 L131.94 115.38 L132.1 116.68 L131.56 118.76 L131.56 120.37 L130.75 122.21 L130.1 124.14 L129.46 126.04 L128.33 127.4 L127.05 129.34 L126.16 130.53 L124.87 131.88 L124.02 132.68 L122.9 133.61 L121.86 134.15 L120.88 134.56 L120.13 134.55 L119.23 134.67 L118.61 134.09 L118.37 133.62 L117.75 132.66 L117.67 131.56 L117.19 130.57 L116.89 128.78 L117.07 127.31 L117 125.18 L117.11 123.47 L117.5 121.57 L117.67 119.78 L118.66 117.86 L119.27 116.14 L120.54 114.41 L121.5 113.18 L122.31 111.75 L123.5 110.37 L124.77 109.73 L125.75 109.13 L126.96 108.97 L127.59 108.66 Z" fill="#000" stroke="#222" stroke-width="0.3" fill-opacity="0.2"/>
<path d="M128.23 110.32 L129.16 110.77 L129.56 111.57 L130.14 112.23 L130.53 113.45 L130.89 114.66 L131.01 115.67 L131.05 117.46 L130.9 119.17 L130.4 120.46 L129.86 122.42 L129.45 123.76 L128.83 125.61 L127.57 126.99 L126.93 128.36 L125.59 129.58 L124.78 130.69 L124.03 131.83 L123.16 132.25 L121.97 132.89 L120.94 133.4 L120.47 133.23 L119.85 133.13 L119.5 133.03 L118.89 132.35 L118.3 131.44 L118.29 130.83 L118.15 129.39 L117.73 127.84 L117.77 126.57 L117.75 125.02 L117.94 123.32 L118.3 121.58 L118.62 120.07 L118.92 118.17 L119.89 116.74 L120.76 115.25 L121.46 114.1 L122.44 112.9 L123.69 111.96 L124.46 111.3 L125.46 110.73 L126.31 110.14 L127.55 109.99 Z" fill="#000" stroke="#222" stroke-width="0.3" fill-opacity="0.2"/>
<path d="M127.95 111.67 L128.47 112.03 L129.12 112.82 L129.54 113.51 L129.81 114.49 L129.95 115.28 L130.33 116.55 L130.35 117.91 L129.85 119.12 L129.77 121.09 L129.28 122.36 L128.68 123.92 L128.28 124.97 L127.09 126.38 L126.2 127.62 L125.55 128.46 L124.79 129.51 L123.96 130.25 L123.28 131.04 L122.52 131.44 L121.66 132.12 L121 131.72 L120.33 131.91 L119.79 131.55 L119.33 131 L119.29 130.41 L119.05 129.39 L118.92 128.39 L118.69 127.65 L118.72 126.13 L118.47 124.55 L118.76 123.24 L119.11 121.6 L119.06 120.4 L119.75 118.83 L120.24 117.19 L120.94 116.3 L122.12 114.93 L123.03 113.84 L123.58 113.37 L124.34 112.65 L125.5 111.81 L126.12 111.67 L126.82 111.73 Z" fill="#000" stroke="#222" stroke-width="0.3" fill-opacity="0.2"/>
<path d="M126.98 113.34 L127.72 113.33 L128.32 113.86 L128.6 114.83 L128.98 115.47 L128.91 116.32 L129.02 117.42 L129.04 118.53 L129.07 119.67 L129.03 120.86 L128.35 122.41 L128.03 123.65 L127.72 124.71 L126.76 125.49 L126.37 126.64 L125.36 127.69 L124.45 128.42 L123.73 129.16 L123.22 129.7 L122.41 130.08 L121.86 130.21 L121.21 130.66 L120.86 130.64 L120.2 130.33 L120.1 129.92 L119.86 129.31 L119.46 128.54 L119.34 127.41 L119.15 126.45 L119.34 125.37 L119.57 124.15 L119.49 122.92 L119.58 121.9 L120 120.31 L120.19 119.26 L121.2 117.95 L121.55 117.1 L122.38 115.98 L123.08 115.16 L123.95 114.24 L124.64 113.86 L125.19 113.21 L125.72 113.25 L126.7 113 Z" fill="#000" stroke="#222" stroke-width="0.3" fill-opacity="0.2"/>
<path d="M126.64 114.52 L127.02 114.79 L127.36 115.56 L128.04 116.12 L128.1 116.55 L128.34 117.56 L128.46 118.29 L128.2 119.13 L128.38 120.32 L127.85 121.19 L127.81 122.03 L127.67 123.43 L127.13 124.08 L126.46 125.38 L125.92 126.14 L125.25 126.93 L124.57 127.4 L124.01 128.19 L123.54 128.44 L122.99 128.91 L122.56 128.93 L122 129.33 L121.26 129.16 L121.01 128.65 L120.82 128.36 L120.48 128.2 L120.41 127.52 L120.12 126.77 L120.23 125.95 L120.24 125.12 L120.13 123.69 L120.19 123.04 L120.22 121.81 L120.63 120.93 L120.7 119.62 L121.25 118.47 L122.1 117.84 L122.56 117 L123.08 116.11 L123.6 115.8 L124.44 115.11 L124.81 114.67 L125.67 114.66 L126.15 114.78 Z" fill="#000" stroke="#222" stroke-width="0.3" fill-opacity="0.2"/>
<path d="M125.91 116.2 L126.22 116.45 L126.71 116.53 L127.32 117.13 L127.09 117.78 L127.41 118.46 L127.44 118.93 L127.7 119.78 L127.69 120.44 L127.48 121.23 L127.15 121.94 L126.55 123.17 L126.29 123.91 L125.81 124.38 L125.22 125.12 L125.08 125.85 L124.28 126.51 L124.08 126.94 L123.24 127.16 L122.92 127.66 L122.53 127.68 L122.35 127.65 L121.93 127.72 L121.86 127.54 L121.29 127.39 L120.98 126.89 L121.16 126.37 L120.9 125.83 L121.04 125.23 L121.06 124.14 L120.86 123.32 L121.09 122.95 L120.87 121.82 L121.33 120.79 L121.46 120.27 L122.03 119.31 L122.51 118.61 L122.84 117.97 L123.49 117.57 L123.89 117.07 L124.14 116.75 L124.84 116.41 L125.2 115.93 L125.68 116.26 Z" fill="#000" stroke="#222" stroke-width="0.3" fill-opacity="0.2"/>
<path d="M125.75 117.61 L125.7 117.73 L126.35 117.93 L126.48 118.23 L126.45 118.49 L126.49 119.11 L126.76 120.01 L126.5 120.13 L126.82 120.81 L126.38 121.44 L126.15 121.95 L126.06 122.69 L126.03 123.3 L125.22 124.01 L124.98 124.53 L124.7 124.99 L124.28 125.05 L124.07 125.63 L123.59 125.97 L123.43 126.03 L122.83 126.39 L122.75 126.17 L122.56 126.14 L122.46 125.94 L122.22 125.98 L121.79 125.78 L121.75 125.07 L121.52 124.74 L121.76 124.42 L121.56 123.86 L121.51 122.98 L121.69 122.76 L121.82 121.99 L122.06 121.24 L122.33 120.82 L122.39 119.96 L122.93 119.48 L122.89 119.12 L123.48 118.58 L123.85 118.42 L124.07 117.78 L124.39 117.59 L124.88 117.76 L125.34 117.63 Z" fill="#000" stroke="#222" stroke-width="0.3" fill-opacity="0.2"/>
<path d="M125 119.11 L125.08 119.31 L125.49 119.56 L125.35 119.58 L125.76 119.87 L125.83 120.39 L125.8 120.67 L125.75 121.05 L125.5 121.28 L125.71 121.75 L125.5 121.84 L125.38 122.68 L125.12 122.71 L124.89 123.01 L124.71 123.84 L124.62 123.88 L124.37 124 L124.15 124.38 L123.48 124.56 L123.38 124.56 L123.12 124.71 L123.11 125 L122.7 124.89 L122.7 124.54 L122.81 124.54 L122.53 124.41 L122.36 124.25 L122.29 123.97 L122.59 123.6 L122.17 123.21 L122.22 122.68 L122.51 122.12 L122.55 122.05 L122.67 121.46 L122.76 121.13 L122.77 120.82 L123.36 120.56 L123.65 120 L123.95 119.59 L123.94 119.29 L124.09 119.35 L124.49 119.15 L124.6 118.89 L124.84 118.93 Z" fill="#000" stroke="#222" stroke-width="0.3" fill-opacity="0.2"/>
<ellipse cx="124.3" cy="122.5" rx="0.8" ry="3.4" fill="#fff" opacity="0.9" transform="rotate(20 124.3 122.5)"/>
<text x="17.0" y="101.7" font-size="6.6" fill="#333">10<tspan font-size="4.3" dy="-2.6">5</tspan></text>
<line x1="27.2" y1="99.3" x2="29.2" y2="99.3" stroke="#444" stroke-width="0.6"/>
<text x="17.0" y="122" font-size="6.6" fill="#333">10<tspan font-size="4.3" dy="-2.6">3</tspan></text>
<line x1="27.2" y1="119.6" x2="29.2" y2="119.6" stroke="#444" stroke-width="0.6"/>
<text x="17.0" y="142.7" font-size="6.6" fill="#333">10<tspan font-size="4.3" dy="-2.6">0</tspan></text>
<line x1="27.2" y1="140.3" x2="29.2" y2="140.3" stroke="#444" stroke-width="0.6"/>
<text x="40" y="157.3" font-size="6.6" fill="#333" text-anchor="middle">10<tspan font-size="4.3" dy="-2.6">0</tspan></text>
<line x1="39.5" y1="149.5" x2="39.5" y2="151.5" stroke="#444" stroke-width="0.6"/>
<text x="61" y="157.3" font-size="6.6" fill="#333" text-anchor="middle">10<tspan font-size="4.3" dy="-2.6">3</tspan></text>
<line x1="60.5" y1="149.5" x2="60.5" y2="151.5" stroke="#444" stroke-width="0.6"/>
<text x="81" y="157.3" font-size="6.6" fill="#333" text-anchor="middle">10<tspan font-size="4.3" dy="-2.6">5</tspan></text>
<line x1="80.5" y1="149.5" x2="80.5" y2="151.5" stroke="#444" stroke-width="0.6"/>
<text x="151.02" y="11.8" font-size="15.5" fill="#000" font-weight="bold" textLength="10.92" lengthAdjust="spacingAndGlyphs"><tspan font-size="15.5">B</tspan></text>
<line x1="186.3" y1="23.9" x2="186.3" y2="125.2" stroke="#333" stroke-width="1.1"/>
<line x1="185.8" y1="124.7" x2="261.7" y2="124.7" stroke="#333" stroke-width="1.1"/>
<line x1="183.3" y1="124.6" x2="186.3" y2="124.6" stroke="#333" stroke-width="1"/>
<text x="182.2" y="128" font-size="10.22" fill="#1a1a1a" text-anchor="end" textLength="5.34" lengthAdjust="spacingAndGlyphs">0</text>
<line x1="183.3" y1="99.55" x2="186.3" y2="99.55" stroke="#333" stroke-width="1"/>
<text x="182.2" y="102.95" font-size="10.22" fill="#1a1a1a" text-anchor="end" textLength="10.68" lengthAdjust="spacingAndGlyphs">20</text>
<line x1="183.3" y1="74.5" x2="186.3" y2="74.5" stroke="#333" stroke-width="1"/>
<text x="182.2" y="77.9" font-size="10.22" fill="#1a1a1a" text-anchor="end" textLength="10.68" lengthAdjust="spacingAndGlyphs">40</text>
<line x1="183.3" y1="49.45" x2="186.3" y2="49.45" stroke="#333" stroke-width="1"/>
<text x="182.2" y="52.85" font-size="10.22" fill="#1a1a1a" text-anchor="end" textLength="10.68" lengthAdjust="spacingAndGlyphs">60</text>
<line x1="183.3" y1="24.4" x2="186.3" y2="24.4" stroke="#333" stroke-width="1"/>
<text x="182.2" y="27.8" font-size="10.22" fill="#1a1a1a" text-anchor="end" textLength="10.68" lengthAdjust="spacingAndGlyphs">80</text>
<line x1="198.3" y1="124.7" x2="198.3" y2="127.8" stroke="#333" stroke-width="1"/>
<line x1="215.8" y1="124.7" x2="215.8" y2="127.8" stroke="#333" stroke-width="1"/>
<line x1="233.3" y1="124.7" x2="233.3" y2="127.8" stroke="#333" stroke-width="1"/>
<line x1="250.8" y1="124.7" x2="250.8" y2="127.8" stroke="#333" stroke-width="1"/>
<rect x="192.05" y="123.1" width="12.5" height="1.6" fill="#fb2a12" stroke="#222" stroke-width="1"/>
<rect x="209.55" y="122.97" width="12.5" height="1.73" fill="#fb2a12" stroke="#222" stroke-width="1"/>
<rect x="227" y="66.7" width="12.6" height="58" fill="#2a16ff" stroke="#222" stroke-width="1"/>
<rect x="244.5" y="68" width="12.6" height="56.7" fill="#2a16ff" stroke="#222" stroke-width="1"/>
<line x1="233.3" y1="72" x2="233.3" y2="61.3" stroke="#111" stroke-width="1"/>
<line x1="230.8" y1="61.3" x2="235.8" y2="61.3" stroke="#111" stroke-width="1"/>
<line x1="230.8" y1="72" x2="235.8" y2="72" stroke="#111" stroke-width="1"/>
<line x1="250.8" y1="73.5" x2="250.8" y2="62.5" stroke="#111" stroke-width="1"/>
<line x1="248.3" y1="62.5" x2="253.3" y2="62.5" stroke="#111" stroke-width="1"/>
<line x1="248.3" y1="73.5" x2="253.3" y2="73.5" stroke="#111" stroke-width="1"/>
<rect x="227.7" y="50.7" width="3" height="3" fill="#000"/>
<rect x="232.1" y="53.5" width="3" height="3" fill="#000"/>
<rect x="227.5" y="76" width="3" height="3" fill="#000"/>
<rect x="236.1" y="74.8" width="3" height="3" fill="#000"/>
<path d="M233.3 68.22 L235.2 71.52 L231.4 71.52 Z" fill="#000"/>
<rect x="249.3" y="48.2" width="3" height="3" fill="#000"/>
<rect x="249.3" y="56" width="3" height="3" fill="#000"/>
<rect x="249.3" y="74.3" width="3" height="3" fill="#000"/>
<rect x="249.3" y="90.1" width="3" height="3" fill="#000"/>
<circle cx="250.2" cy="64" r="1.7" fill="#000"/>
<circle cx="193.8" cy="122.5" r="1.7" fill="#fb2a12"/>
<circle cx="195.8" cy="121.5" r="1.7" fill="#fb2a12"/>
<circle cx="198.3" cy="122.1" r="1.7" fill="#fb2a12"/>
<circle cx="200.8" cy="121.5" r="1.7" fill="#fb2a12"/>
<circle cx="202.8" cy="122.7" r="1.7" fill="#fb2a12"/>
<circle cx="211.3" cy="122.5" r="1.7" fill="#fb2a12"/>
<circle cx="213.3" cy="121.5" r="1.7" fill="#fb2a12"/>
<circle cx="215.8" cy="122.1" r="1.7" fill="#fb2a12"/>
<circle cx="218.3" cy="121.5" r="1.7" fill="#fb2a12"/>
<circle cx="220.3" cy="122.7" r="1.7" fill="#fb2a12"/>
<path d="M198.1 25.7 L198.1 23.5 L233.8 23.5 L233.8 25.7" fill="none" stroke="#222" stroke-width="0.9"/>
<text x="216.1" y="24.31" font-size="9" fill="#1a1a1a" text-anchor="middle">****</text>
<path d="M215 33.4 L215 31.2 L250.7 31.2 L250.7 33.4" fill="none" stroke="#222" stroke-width="0.9"/>
<text x="232.8" y="32.51" font-size="9" fill="#1a1a1a" text-anchor="middle">****</text>
<path d="M215.4 42.6 L215.4 40.4 L232.7 40.4 L232.7 42.6" fill="none" stroke="#222" stroke-width="0.9"/>
<text x="224.3" y="40.81" font-size="9" fill="#1a1a1a" text-anchor="middle">****</text>
<path d="M234 42.6 L234 40.4 L251.1 40.4 L251.1 42.6" fill="none" stroke="#222" stroke-width="0.9"/>
<text x="242.7" y="38.2" font-size="9.8" fill="#222" text-anchor="middle">ns</text>
<path d="M198 110.5 L198 108.3 L215.5 108.3 L215.5 110.5" fill="none" stroke="#222" stroke-width="0.9"/>
<text x="206.8" y="104.7" font-size="9.8" fill="#222" text-anchor="middle">ns</text>
<text x="-0.32" y="0" font-size="10.58" fill="#1a1a1a" textLength="79.04" lengthAdjust="spacingAndGlyphs" transform="translate(166.7 111.7) rotate(-90)"><tspan font-size="10.58">% CD70</tspan><tspan font-size="6.4" dy="-3.07">+</tspan><tspan font-size="10.58" dy="3.07"> NKT cells</tspan></text>
<text x="0" y="0" font-size="10.17" fill="#fa2a1c" text-anchor="end" textLength="29.67" lengthAdjust="spacingAndGlyphs" transform="translate(203 137) rotate(-30)"><tspan font-size="6.4" dy="-3.1">Allo</tspan><tspan font-size="10.17" dy="3.1" dx="0">NKT</tspan></text>
<text x="0" y="0" font-size="10.17" fill="#fa2a1c" text-anchor="end" textLength="63.46" lengthAdjust="spacingAndGlyphs" transform="translate(220.5 137) rotate(-30)"><tspan font-size="6.4" dy="-3.1">Allo</tspan><tspan font-size="10.17" dy="3.1" dx="0">CAR70-NKT</tspan></text>
<text x="0" y="0" font-size="10.17" fill="#2a2aff" text-anchor="end" textLength="37.49" lengthAdjust="spacingAndGlyphs" transform="translate(242.2 137) rotate(-30)"><tspan font-size="6.4" dy="-3.1">PBMC</tspan><tspan font-size="10.17" dy="3.1" dx="0">NKT</tspan></text>
<text x="0" y="0" font-size="10.17" fill="#2a2aff" text-anchor="end" textLength="71.28" lengthAdjust="spacingAndGlyphs" transform="translate(261.3 137) rotate(-30)"><tspan font-size="6.4" dy="-3.1">PBMC</tspan><tspan font-size="10.17" dy="3.1" dx="0">CAR70-NKT</tspan></text>
<text x="262.74" y="11.8" font-size="15.5" fill="#000" font-weight="bold" textLength="10.14" lengthAdjust="spacingAndGlyphs"><tspan font-size="15.5">C</tspan></text>
<line x1="318" y1="24.5" x2="318" y2="125.5" stroke="#333" stroke-width="1.1"/>
<line x1="317.5" y1="125" x2="393.5" y2="125" stroke="#333" stroke-width="1.1"/>
<line x1="315" y1="125" x2="318" y2="125" stroke="#333" stroke-width="1"/>
<text x="314" y="128.4" font-size="10.22" fill="#1a1a1a" text-anchor="end" textLength="13.35" lengthAdjust="spacingAndGlyphs">0.0</text>
<line x1="315" y1="100" x2="318" y2="100" stroke="#333" stroke-width="1"/>
<text x="314" y="103.4" font-size="10.22" fill="#1a1a1a" text-anchor="end" textLength="13.35" lengthAdjust="spacingAndGlyphs">0.3</text>
<line x1="315" y1="75" x2="318" y2="75" stroke="#333" stroke-width="1"/>
<text x="314" y="78.4" font-size="10.22" fill="#1a1a1a" text-anchor="end" textLength="13.35" lengthAdjust="spacingAndGlyphs">0.6</text>
<line x1="315" y1="50" x2="318" y2="50" stroke="#333" stroke-width="1"/>
<text x="314" y="53.4" font-size="10.22" fill="#1a1a1a" text-anchor="end" textLength="13.35" lengthAdjust="spacingAndGlyphs">0.9</text>
<line x1="315" y1="25" x2="318" y2="25" stroke="#333" stroke-width="1"/>
<text x="314" y="28.4" font-size="10.22" fill="#1a1a1a" text-anchor="end" textLength="13.35" lengthAdjust="spacingAndGlyphs">1.2</text>
<line x1="329.5" y1="125" x2="329.5" y2="128" stroke="#333" stroke-width="1"/>
<line x1="347" y1="125" x2="347" y2="128" stroke="#333" stroke-width="1"/>
<line x1="364.5" y1="125" x2="364.5" y2="128" stroke="#333" stroke-width="1"/>
<line x1="382" y1="125" x2="382" y2="128" stroke="#333" stroke-width="1"/>
<rect x="323.1" y="42" width="12.8" height="83" fill="#fb2a12" stroke="#222" stroke-width="1"/>
<rect x="340.6" y="43" width="12.8" height="82" fill="#fb2a12" stroke="#222" stroke-width="1"/>
<rect x="358.1" y="42.5" width="12.8" height="82.5" fill="#2a16ff" stroke="#222" stroke-width="1"/>
<rect x="375.6" y="64.67" width="12.8" height="60.33" fill="#2a16ff" stroke="#222" stroke-width="1"/>
<line x1="329.5" y1="45.5" x2="329.5" y2="38.5" stroke="#111" stroke-width="1"/>
<line x1="327" y1="38.5" x2="332" y2="38.5" stroke="#111" stroke-width="1"/>
<line x1="327" y1="45.5" x2="332" y2="45.5" stroke="#111" stroke-width="1"/>
<line x1="347" y1="47.8" x2="347" y2="38.3" stroke="#111" stroke-width="1"/>
<line x1="344.5" y1="38.3" x2="349.5" y2="38.3" stroke="#111" stroke-width="1"/>
<line x1="344.5" y1="47.8" x2="349.5" y2="47.8" stroke="#111" stroke-width="1"/>
<line x1="364.5" y1="47.7" x2="364.5" y2="37.3" stroke="#111" stroke-width="1"/>
<line x1="362" y1="37.3" x2="367" y2="37.3" stroke="#111" stroke-width="1"/>
<line x1="362" y1="47.7" x2="367" y2="47.7" stroke="#111" stroke-width="1"/>
<line x1="382" y1="70.4" x2="382" y2="59" stroke="#111" stroke-width="1"/>
<line x1="379.5" y1="59" x2="384.5" y2="59" stroke="#111" stroke-width="1"/>
<line x1="379.5" y1="70.4" x2="384.5" y2="70.4" stroke="#111" stroke-width="1"/>
<circle cx="329.2" cy="34.2" r="1.6" fill="#000"/>
<circle cx="325.2" cy="37.5" r="1.6" fill="#000"/>
<circle cx="331" cy="43.7" r="1.6" fill="#000"/>
<circle cx="329.2" cy="50.8" r="1.6" fill="#000"/>
<circle cx="328" cy="42.5" r="1.6" fill="#000"/>
<circle cx="346.7" cy="32.5" r="1.6" fill="#000"/>
<circle cx="350.8" cy="32.5" r="1.6" fill="#000"/>
<circle cx="350.8" cy="43.7" r="1.6" fill="#000"/>
<circle cx="346.7" cy="61.3" r="1.6" fill="#000"/>
<circle cx="344.5" cy="43" r="1.6" fill="#000"/>
<rect x="358.5" y="31.8" width="3" height="3" fill="#000"/>
<rect x="362.7" y="30.5" width="3" height="3" fill="#000"/>
<rect x="362.7" y="56" width="3" height="3" fill="#000"/>
<circle cx="369.2" cy="42.5" r="1.6" fill="#000"/>
<circle cx="360.5" cy="42.5" r="1.6" fill="#000"/>
<rect x="380.3" y="48.3" width="3" height="3" fill="#000"/>
<rect x="380.3" y="53.1" width="3" height="3" fill="#000"/>
<rect x="380.3" y="65.7" width="3" height="3" fill="#000"/>
<rect x="380.3" y="69.3" width="3" height="3" fill="#000"/>
<rect x="380.3" y="78.1" width="3" height="3" fill="#000"/>
<path d="M328.3 30 L328.3 27.5 L346.7 27.5 L346.7 30" fill="none" stroke="#222" stroke-width="0.9"/>
<text x="337.5" y="25.3" font-size="9.8" fill="#222" text-anchor="middle">ns</text>
<path d="M364.2 30 L364.2 27.5 L381.2 27.5 L381.2 30" fill="none" stroke="#222" stroke-width="0.9"/>
<text x="372.7" y="27.51" font-size="9" fill="#1a1a1a" text-anchor="middle">*</text>
<text x="-0.46" y="0" font-size="10.37" fill="#1a1a1a" textLength="100.03" lengthAdjust="spacingAndGlyphs" transform="translate(285.8 121.8) rotate(-90)"><tspan font-size="10.37">Cell yield (fold change to</tspan></text>
<text x="-0.59" y="0" font-size="10.37" fill="#1a1a1a" textLength="110.17" lengthAdjust="spacingAndGlyphs" transform="translate(295.9 127.6) rotate(-90)"><tspan font-size="10.37">non-CAR-engineered cells)</tspan></text>
<text x="0" y="0" font-size="10.17" fill="#fa2a1c" text-anchor="end" textLength="29.67" lengthAdjust="spacingAndGlyphs" transform="translate(334.2 137.5) rotate(-30)"><tspan font-size="6.4" dy="-3.1">Allo</tspan><tspan font-size="10.17" dy="3.1" dx="0">NKT</tspan></text>
<text x="0" y="0" font-size="10.17" fill="#fa2a1c" text-anchor="end" textLength="63.46" lengthAdjust="spacingAndGlyphs" transform="translate(351.7 137.5) rotate(-30)"><tspan font-size="6.4" dy="-3.1">Allo</tspan><tspan font-size="10.17" dy="3.1" dx="0">CAR70-NKT</tspan></text>
<text x="0" y="0" font-size="10.17" fill="#2a2aff" text-anchor="end" textLength="37.49" lengthAdjust="spacingAndGlyphs" transform="translate(373.4 137.5) rotate(-30)"><tspan font-size="6.4" dy="-3.1">PBMC</tspan><tspan font-size="10.17" dy="3.1" dx="0">NKT</tspan></text>
<text x="0" y="0" font-size="10.17" fill="#2a2aff" text-anchor="end" textLength="71.28" lengthAdjust="spacingAndGlyphs" transform="translate(392.2 137.5) rotate(-30)"><tspan font-size="6.4" dy="-3.1">PBMC</tspan><tspan font-size="10.17" dy="3.1" dx="0">CAR70-NKT</tspan></text>
<text x="402.33" y="11.8" font-size="15.5" fill="#000" font-weight="bold" textLength="10.8" lengthAdjust="spacingAndGlyphs"><tspan font-size="15.5">D</tspan></text>
<line x1="442.5" y1="24.7" x2="442.5" y2="125.8" stroke="#333" stroke-width="1.1"/>
<line x1="442" y1="125.3" x2="514.5" y2="125.3" stroke="#333" stroke-width="1.1"/>
<line x1="439.5" y1="125.3" x2="442.5" y2="125.3" stroke="#333" stroke-width="1"/>
<text x="438.5" y="128.7" font-size="10.22" fill="#1a1a1a" text-anchor="end" textLength="5.34" lengthAdjust="spacingAndGlyphs">0</text>
<line x1="439.5" y1="105.3" x2="442.5" y2="105.3" stroke="#333" stroke-width="1"/>
<text x="438.5" y="108.7" font-size="10.22" fill="#1a1a1a" text-anchor="end" textLength="5.34" lengthAdjust="spacingAndGlyphs">5</text>
<line x1="439.5" y1="85.3" x2="442.5" y2="85.3" stroke="#333" stroke-width="1"/>
<text x="438.5" y="88.7" font-size="10.22" fill="#1a1a1a" text-anchor="end" textLength="10.68" lengthAdjust="spacingAndGlyphs">10</text>
<line x1="439.5" y1="65.3" x2="442.5" y2="65.3" stroke="#333" stroke-width="1"/>
<text x="438.5" y="68.7" font-size="10.22" fill="#1a1a1a" text-anchor="end" textLength="10.68" lengthAdjust="spacingAndGlyphs">15</text>
<line x1="439.5" y1="45.3" x2="442.5" y2="45.3" stroke="#333" stroke-width="1"/>
<text x="438.5" y="48.7" font-size="10.22" fill="#1a1a1a" text-anchor="end" textLength="10.68" lengthAdjust="spacingAndGlyphs">20</text>
<line x1="439.5" y1="25.3" x2="442.5" y2="25.3" stroke="#333" stroke-width="1"/>
<text x="438.5" y="28.7" font-size="10.22" fill="#1a1a1a" text-anchor="end" textLength="10.68" lengthAdjust="spacingAndGlyphs">25</text>
<line x1="453.8" y1="125.3" x2="453.8" y2="128.3" stroke="#333" stroke-width="1"/>
<line x1="471.3" y1="125.3" x2="471.3" y2="128.3" stroke="#333" stroke-width="1"/>
<line x1="488.8" y1="125.3" x2="488.8" y2="128.3" stroke="#333" stroke-width="1"/>
<line x1="506.3" y1="125.3" x2="506.3" y2="128.3" stroke="#333" stroke-width="1"/>
<rect x="447.7" y="112.1" width="12.2" height="13.2" fill="#fb2a12" stroke="#222" stroke-width="1"/>
<rect x="465.2" y="114.1" width="12.2" height="11.2" fill="#fb2a12" stroke="#222" stroke-width="1"/>
<rect x="482.7" y="95.7" width="12.2" height="29.6" fill="#2a16ff" stroke="#222" stroke-width="1"/>
<rect x="500.2" y="69.3" width="12.2" height="56" fill="#2a16ff" stroke="#222" stroke-width="1"/>
<line x1="453.8" y1="119.3" x2="453.8" y2="104.9" stroke="#111" stroke-width="1"/>
<line x1="451.3" y1="104.9" x2="456.3" y2="104.9" stroke="#111" stroke-width="1"/>
<line x1="451.3" y1="119.3" x2="456.3" y2="119.3" stroke="#111" stroke-width="1"/>
<line x1="471.3" y1="116.9" x2="471.3" y2="111.3" stroke="#111" stroke-width="1"/>
<line x1="468.8" y1="111.3" x2="473.8" y2="111.3" stroke="#111" stroke-width="1"/>
<line x1="468.8" y1="116.9" x2="473.8" y2="116.9" stroke="#111" stroke-width="1"/>
<line x1="488.8" y1="100.5" x2="488.8" y2="90.9" stroke="#111" stroke-width="1"/>
<line x1="486.3" y1="90.9" x2="491.3" y2="90.9" stroke="#111" stroke-width="1"/>
<line x1="486.3" y1="100.5" x2="491.3" y2="100.5" stroke="#111" stroke-width="1"/>
<line x1="506.3" y1="76.5" x2="506.3" y2="62.1" stroke="#111" stroke-width="1"/>
<line x1="503.8" y1="62.1" x2="508.8" y2="62.1" stroke="#111" stroke-width="1"/>
<line x1="503.8" y1="76.5" x2="508.8" y2="76.5" stroke="#111" stroke-width="1"/>
<circle cx="453.5" cy="100" r="1.6" fill="#000"/>
<circle cx="453" cy="104" r="1.6" fill="#000"/>
<circle cx="450" cy="119" r="1.6" fill="#000"/>
<circle cx="454.5" cy="116.5" r="1.6" fill="#000"/>
<circle cx="458" cy="119" r="1.6" fill="#000"/>
<circle cx="471.5" cy="108.5" r="1.6" fill="#000"/>
<circle cx="468" cy="113.5" r="1.6" fill="#000"/>
<circle cx="473.5" cy="113" r="1.6" fill="#000"/>
<circle cx="470.5" cy="119.2" r="1.6" fill="#000"/>
<circle cx="475" cy="114.5" r="1.6" fill="#000"/>
<rect x="491" y="84.5" width="3" height="3" fill="#000"/>
<rect x="488" y="88" width="3" height="3" fill="#000"/>
<rect x="487.3" y="94" width="3" height="3" fill="#000"/>
<rect x="485.5" y="98" width="3" height="3" fill="#000"/>
<rect x="487.7" y="104.5" width="3" height="3" fill="#000"/>
<rect x="504.3" y="49.3" width="3" height="3" fill="#000"/>
<rect x="505.2" y="58.5" width="3" height="3" fill="#000"/>
<rect x="501" y="72.7" width="3" height="3" fill="#000"/>
<rect x="508.8" y="70.2" width="3" height="3" fill="#000"/>
<rect x="504.7" y="86.5" width="3" height="3" fill="#000"/>
<path d="M453.3 30.5 L453.3 28 L470.8 28 L470.8 30.5" fill="none" stroke="#222" stroke-width="0.9"/>
<text x="462" y="25.5" font-size="9.8" fill="#222" text-anchor="middle">ns</text>
<path d="M488.3 30.5 L488.3 28 L505.5 28 L505.5 30.5" fill="none" stroke="#222" stroke-width="0.9"/>
<text x="496.9" y="27.51" font-size="9" fill="#1a1a1a" text-anchor="middle">**</text>
<text x="-0.73" y="0" font-size="10.37" fill="#1a1a1a" textLength="84.65" lengthAdjust="spacingAndGlyphs" transform="translate(412.8 115.5) rotate(-90)"><tspan font-size="10.37">Exhausted NKT cells</tspan></text>
<text x="-0.57" y="0" font-size="10.37" fill="#1a1a1a" textLength="89.96" lengthAdjust="spacingAndGlyphs" transform="translate(424.4 117.5) rotate(-90)"><tspan font-size="10.37">(PD-1</tspan><tspan font-size="6.4" dy="-3.01">+</tspan><tspan font-size="10.37" dy="3.01">TIM-3</tspan><tspan font-size="6.4" dy="-3.01">+</tspan><tspan font-size="10.37" dy="3.01">LAG-3</tspan><tspan font-size="6.4" dy="-3.01">+</tspan><tspan font-size="10.37" dy="3.01">)</tspan></text>
<text x="0" y="0" font-size="10.17" fill="#fa2a1c" text-anchor="end" textLength="29.67" lengthAdjust="spacingAndGlyphs" transform="translate(458.5 137.5) rotate(-30)"><tspan font-size="6.4" dy="-3.1">Allo</tspan><tspan font-size="10.17" dy="3.1" dx="0">NKT</tspan></text>
<text x="0" y="0" font-size="10.17" fill="#fa2a1c" text-anchor="end" textLength="63.46" lengthAdjust="spacingAndGlyphs" transform="translate(476 137.5) rotate(-30)"><tspan font-size="6.4" dy="-3.1">Allo</tspan><tspan font-size="10.17" dy="3.1" dx="0">CAR70-NKT</tspan></text>
<text x="0" y="0" font-size="10.17" fill="#2a2aff" text-anchor="end" textLength="37.49" lengthAdjust="spacingAndGlyphs" transform="translate(497.7 137.5) rotate(-30)"><tspan font-size="6.4" dy="-3.1">PBMC</tspan><tspan font-size="10.17" dy="3.1" dx="0">NKT</tspan></text>
<text x="0" y="0" font-size="10.17" fill="#2a2aff" text-anchor="end" textLength="71.28" lengthAdjust="spacingAndGlyphs" transform="translate(516.5 137.5) rotate(-30)"><tspan font-size="6.4" dy="-3.1">PBMC</tspan><tspan font-size="10.17" dy="3.1" dx="0">CAR70-NKT</tspan></text>
<text x="525.01" y="11.8" font-size="15.5" fill="#000" font-weight="bold" textLength="10.15" lengthAdjust="spacingAndGlyphs"><tspan font-size="15.5">E</tspan></text>
<circle cx="564.5" cy="37.5" r="17.6" fill="#8fa2f6" stroke="#333" stroke-width="0.6"/>
<circle cx="566" cy="38.4" r="10.8" fill="#2a16ff" stroke="#222" stroke-width="0.6"/>
<g transform="translate(578.4 34.6) rotate(78)" fill="#2a2aff" stroke="none">
<rect x="-2.75" y="-9.5" width="1.5" height="9.5"/>
<rect x="1.25" y="-9.5" width="1.5" height="9.5"/>
<circle cx="-2" cy="-9.0" r="1.95"/>
<circle cx="-2" cy="-12.8" r="1.95"/>
<circle cx="2" cy="-9.0" r="1.95"/>
<circle cx="2" cy="-12.8" r="1.95"/>
</g>
<rect x="562.3" y="53.8" width="7.2" height="12" fill="#d9a92c" stroke="#b58a1c" stroke-width="0.3"/>
<line x1="564.7" y1="53.8" x2="564.7" y2="65.8" stroke="#a67c12" stroke-width="0.5"/>
<line x1="567.1" y1="53.8" x2="567.1" y2="65.8" stroke="#a67c12" stroke-width="0.5"/>
<rect x="537.3" y="95.3" width="13.6" height="7.7" fill="#d9a92c" stroke="#b58a1c" stroke-width="0.3"/>
<line x1="537.3" y1="97.87" x2="550.9" y2="97.87" stroke="#a67c12" stroke-width="0.5"/>
<line x1="537.3" y1="100.43" x2="550.9" y2="100.43" stroke="#a67c12" stroke-width="0.5"/>
<circle cx="567.7" cy="98.7" r="17.5" fill="#8fa2f6" stroke="#333" stroke-width="0.6"/>
<circle cx="568.8" cy="99.3" r="10.7" fill="#2a16ff" stroke="#222" stroke-width="0.6"/>
<g transform="translate(565.7 83.2) rotate(0)" fill="#2a2aff" stroke="none">
<rect x="-2.75" y="-9.5" width="1.5" height="9.5"/>
<rect x="1.25" y="-9.5" width="1.5" height="9.5"/>
<circle cx="-2" cy="-9.0" r="1.95"/>
<circle cx="-2" cy="-12.8" r="1.95"/>
<circle cx="2" cy="-9.0" r="1.95"/>
<circle cx="2" cy="-12.8" r="1.95"/>
</g>
<circle cx="638" cy="37.8" r="17.7" fill="#f28181" stroke="#333" stroke-width="0.6"/>
<circle cx="638.8" cy="38.9" r="10.6" fill="#fb2a12" stroke="#222" stroke-width="0.6"/>
<g transform="translate(652 34.6) rotate(78)" fill="#2a2aff" stroke="none">
<rect x="-2.75" y="-9.5" width="1.5" height="9.5"/>
<rect x="1.25" y="-9.5" width="1.5" height="9.5"/>
<circle cx="-2" cy="-9.0" r="1.95"/>
<circle cx="-2" cy="-12.8" r="1.95"/>
<circle cx="2" cy="-9.0" r="1.95"/>
<circle cx="2" cy="-12.8" r="1.95"/>
</g>
<circle cx="638.9" cy="97.7" r="17.8" fill="#f28181" stroke="#333" stroke-width="0.6"/>
<circle cx="640.3" cy="98.3" r="11" fill="#fb2a12" stroke="#222" stroke-width="0.6"/>
<g transform="translate(639.8 82.5) rotate(0)" fill="#2a2aff" stroke="none">
<rect x="-2.75" y="-9.5" width="1.5" height="9.5"/>
<rect x="1.25" y="-9.5" width="1.5" height="9.5"/>
<circle cx="-2" cy="-9.0" r="1.95"/>
<circle cx="-2" cy="-12.8" r="1.95"/>
<circle cx="2" cy="-9.0" r="1.95"/>
<circle cx="2" cy="-12.8" r="1.95"/>
</g>
<text x="533.64" y="63.3" font-size="9.4" fill="#f09a3a" font-weight="bold" textLength="22.72" lengthAdjust="spacingAndGlyphs"><tspan font-size="9.4">CD70</tspan></text>
<text x="527.44" y="76.7" font-size="9.4" fill="#2a2aff" font-weight="bold" textLength="29.12" lengthAdjust="spacingAndGlyphs"><tspan font-size="9.4">CAR70</tspan></text>
<text x="650.14" y="77.2" font-size="9.4" fill="#2a2aff" font-weight="bold" textLength="29.22" lengthAdjust="spacingAndGlyphs"><tspan font-size="9.4">CAR70</tspan></text>
<text x="531.12" y="128" font-size="10.04" fill="#2a2aff" font-weight="bold" textLength="70.78" lengthAdjust="spacingAndGlyphs"><tspan font-size="6.2" dy="-2.9">PBMC</tspan><tspan font-size="10.04" dy="2.9">CAR70-NKT</tspan></text>
<text x="607.16" y="128" font-size="10.04" fill="#fa2a1c" font-weight="bold" textLength="63.95" lengthAdjust="spacingAndGlyphs"><tspan font-size="6.2" dy="-2.9">Allo</tspan><tspan font-size="10.04" dy="2.9">CAR70-NKT</tspan></text>
<text x="542.76" y="142" font-size="10.04" fill="#2a2aff" textLength="47.56" lengthAdjust="spacingAndGlyphs"><tspan font-size="10.04">Fratricide &amp;</tspan></text>
<text x="548.84" y="154.2" font-size="10.04" fill="#2a2aff" textLength="35.91" lengthAdjust="spacingAndGlyphs"><tspan font-size="10.04">NKT cell</tspan></text>
<text x="544.22" y="164.7" font-size="10.04" fill="#2a2aff" textLength="45.35" lengthAdjust="spacingAndGlyphs"><tspan font-size="10.04">exhaustion</tspan></text>
<text x="607.26" y="142" font-size="10.04" fill="#fa2a1c" textLength="76.35" lengthAdjust="spacingAndGlyphs"><tspan font-size="10.04">Free of fratricide &amp;</tspan></text>
<text x="627.74" y="154.2" font-size="10.04" fill="#fa2a1c" textLength="35.91" lengthAdjust="spacingAndGlyphs"><tspan font-size="10.04">NKT cell</tspan></text>
<text x="623.42" y="164.7" font-size="10.04" fill="#fa2a1c" textLength="45.35" lengthAdjust="spacingAndGlyphs"><tspan font-size="10.04">exhaustion</tspan></text>
<text x="0.99" y="198.8" font-size="15.5" fill="#000" font-weight="bold" textLength="9.46" lengthAdjust="spacingAndGlyphs"><tspan font-size="15.5">F</tspan></text>
<rect x="43.3" y="195.3" width="9.5" height="8" fill="#ff3fa3" stroke="#222" stroke-width="0.8"/>
<text x="57.03" y="202.6" font-size="10.26" fill="#222" textLength="34.27" lengthAdjust="spacingAndGlyphs"><tspan font-size="10.26">CD4 SP</tspan></text>
<rect x="96.3" y="195.3" width="9.5" height="8" fill="#9c5a1c" stroke="#222" stroke-width="0.8"/>
<text x="110.02" y="202.6" font-size="10.26" fill="#222" textLength="13.48" lengthAdjust="spacingAndGlyphs"><tspan font-size="10.26">DP</tspan></text>
<rect x="128.7" y="195.3" width="9.5" height="8" fill="#3b9d5a" stroke="#222" stroke-width="0.8"/>
<text x="142.54" y="202.6" font-size="10.26" fill="#222" textLength="32.93" lengthAdjust="spacingAndGlyphs"><tspan font-size="10.26">CD8 SP</tspan></text>
<rect x="181.3" y="195.3" width="9.5" height="8" fill="#f2992e" stroke="#222" stroke-width="0.8"/>
<text x="195.05" y="202.6" font-size="10.26" fill="#222" textLength="13.52" lengthAdjust="spacingAndGlyphs"><tspan font-size="10.26">DN</tspan></text>
<rect x="78.7" y="217.6" width="18.06" height="16.1" fill="#ff3fa3" stroke="#222" stroke-width="0.9"/>
<rect x="96.76" y="217.6" width="58.91" height="16.1" fill="#3b9d5a" stroke="#222" stroke-width="0.9"/>
<rect x="155.67" y="217.6" width="47.58" height="16.1" fill="#f2992e" stroke="#222" stroke-width="0.9"/>
<rect x="78.7" y="241.8" width="69.37" height="15.7" fill="#3b9d5a" stroke="#222" stroke-width="0.9"/>
<rect x="148.07" y="241.8" width="0.5" height="15.7" fill="#9c5a1c" stroke="#222" stroke-width="0.3"/>
<rect x="148.57" y="241.8" width="54.68" height="15.7" fill="#f2992e" stroke="#222" stroke-width="0.9"/>
<line x1="78.7" y1="210" x2="78.7" y2="266.2" stroke="#333" stroke-width="1.1"/>
<line x1="78.2" y1="265.7" x2="203.75" y2="265.7" stroke="#333" stroke-width="1.1"/>
<line x1="78.7" y1="265.7" x2="78.7" y2="268.8" stroke="#333" stroke-width="1"/>
<text x="78.7" y="277.6" font-size="10.12" fill="#222" text-anchor="middle" textLength="5.28" lengthAdjust="spacingAndGlyphs">0</text>
<line x1="109.84" y1="265.7" x2="109.84" y2="268.8" stroke="#333" stroke-width="1"/>
<text x="109.84" y="277.6" font-size="10.12" fill="#222" text-anchor="middle" textLength="10.57" lengthAdjust="spacingAndGlyphs">25</text>
<line x1="140.98" y1="265.7" x2="140.98" y2="268.8" stroke="#333" stroke-width="1"/>
<text x="140.98" y="277.6" font-size="10.12" fill="#222" text-anchor="middle" textLength="10.57" lengthAdjust="spacingAndGlyphs">50</text>
<line x1="172.11" y1="265.7" x2="172.11" y2="268.8" stroke="#333" stroke-width="1"/>
<text x="172.11" y="277.6" font-size="10.12" fill="#222" text-anchor="middle" textLength="10.57" lengthAdjust="spacingAndGlyphs">75</text>
<line x1="203.25" y1="265.7" x2="203.25" y2="268.8" stroke="#333" stroke-width="1"/>
<text x="203.25" y="277.6" font-size="10.12" fill="#222" text-anchor="middle" textLength="15.85" lengthAdjust="spacingAndGlyphs">100</text>
<line x1="75.5" y1="225.6" x2="78.7" y2="225.6" stroke="#333" stroke-width="1"/>
<line x1="75.5" y1="249.6" x2="78.7" y2="249.6" stroke="#333" stroke-width="1"/>
<text x="3.21" y="230" font-size="10.37" fill="#1a1a1a" textLength="71.19" lengthAdjust="spacingAndGlyphs"><tspan font-size="6.6" dy="-2.9">PBMC</tspan><tspan font-size="10.37" dy="2.9">CAR70-NKT</tspan></text>
<text x="12.5" y="254" font-size="10.37" fill="#1a1a1a" textLength="61.9" lengthAdjust="spacingAndGlyphs"><tspan font-size="6.6" dy="-2.9">Allo</tspan><tspan font-size="10.37" dy="2.9">CAR70-NKT</tspan></text>
<text x="79.38" y="290.6" font-size="10.26" fill="#222" textLength="123.43" lengthAdjust="spacingAndGlyphs"><tspan font-size="10.26">% CAR70-NKT subpopulations</tspan></text>
<text x="217.37" y="198.8" font-size="15.5" fill="#000" font-weight="bold" textLength="12.33" lengthAdjust="spacingAndGlyphs"><tspan font-size="15.5">G</tspan></text>
<rect x="287.8" y="210.3" width="27.2" height="25.6" fill="#9b3fae"/>
<rect x="314.7" y="210.3" width="26.4" height="25.6" fill="#cfa2d8"/>
<rect x="340.8" y="210.3" width="27.5" height="25.6" fill="#dfb8e3"/>
<rect x="368" y="210.3" width="27" height="25.6" fill="#e3cbe9"/>
<rect x="394.7" y="210.3" width="27.6" height="25.6" fill="#b470c4"/>
<rect x="422" y="210.3" width="26.6" height="25.6" fill="#efe4f1"/>
<rect x="287.8" y="235.6" width="27.2" height="26.5" fill="#8a27a0"/>
<rect x="314.7" y="235.6" width="26.4" height="26.5" fill="#c386cf"/>
<rect x="340.8" y="235.6" width="27.5" height="26.5" fill="#b46cc6"/>
<rect x="368" y="235.6" width="27" height="26.5" fill="#fbf8fb"/>
<rect x="394.7" y="235.6" width="27.6" height="26.5" fill="#f7f2f7"/>
<rect x="422" y="235.6" width="26.6" height="26.5" fill="#ffffff"/>
<rect x="287.8" y="210.3" width="160.5" height="51.5" fill="none" stroke="#222" stroke-width="1.1"/>
<line x1="368" y1="210.3" x2="368" y2="261.3" stroke="#222" stroke-width="1"/>
<line x1="422.3" y1="210.3" x2="421.7" y2="261.3" stroke="#222" stroke-width="1"/>
<text x="321.02" y="205" font-size="10.04" fill="#222" textLength="15.18" lengthAdjust="spacingAndGlyphs"><tspan font-size="10.04">Th1</tspan></text>
<text x="387.32" y="205" font-size="10.04" fill="#222" textLength="15.33" lengthAdjust="spacingAndGlyphs"><tspan font-size="10.04">Th2</tspan></text>
<text x="424.02" y="205" font-size="10.04" fill="#222" textLength="20.64" lengthAdjust="spacingAndGlyphs"><tspan font-size="10.04">Th17</tspan></text>
<text x="212.51" y="227" font-size="10.37" fill="#1a1a1a" textLength="70.99" lengthAdjust="spacingAndGlyphs"><tspan font-size="6.6" dy="-2.9">PBMC</tspan><tspan font-size="10.37" dy="2.9">CAR70-NKT</tspan></text>
<text x="221.3" y="252.5" font-size="10.37" fill="#1a1a1a" textLength="62.2" lengthAdjust="spacingAndGlyphs"><tspan font-size="6.6" dy="-2.9">Allo</tspan><tspan font-size="10.37" dy="2.9">CAR70-NKT</tspan></text>
<text x="289.42" y="277" font-size="10.04" fill="#222" textLength="23.93" lengthAdjust="spacingAndGlyphs"><tspan font-size="10.04">IFN-γ</tspan></text>
<text x="315.12" y="277" font-size="10.04" fill="#222" textLength="25.94" lengthAdjust="spacingAndGlyphs"><tspan font-size="10.04">TNF-α</tspan></text>
<text x="346.36" y="277" font-size="10.04" fill="#222" textLength="16.12" lengthAdjust="spacingAndGlyphs"><tspan font-size="10.04">IL-2</tspan></text>
<text x="372.94" y="277" font-size="10.04" fill="#222" textLength="16.51" lengthAdjust="spacingAndGlyphs"><tspan font-size="10.04">IL-4</tspan></text>
<text x="397.25" y="277" font-size="10.04" fill="#222" textLength="21.6" lengthAdjust="spacingAndGlyphs"><tspan font-size="10.04">IL-10</tspan></text>
<text x="420.66" y="277" font-size="10.04" fill="#222" textLength="27.56" lengthAdjust="spacingAndGlyphs"><tspan font-size="10.04">IL-17A</tspan></text>
<text x="347.01" y="291.5" font-size="10.26" fill="#222" textLength="43.34" lengthAdjust="spacingAndGlyphs"><tspan font-size="10.26">Cytokines</tspan></text>
<defs><linearGradient id="cbg" x1="0" y1="0" x2="0" y2="1"><stop offset="0" stop-color="#8a22a0"/><stop offset="0.5" stop-color="#c88ad4"/><stop offset="1" stop-color="#ffffff"/></linearGradient></defs>
<rect x="457.5" y="210.3" width="10" height="51" fill="url(#cbg)" stroke="#222" stroke-width="1"/>
<line x1="457.5" y1="219.5" x2="459.3" y2="219.5" stroke="#222" stroke-width="0.8"/>
<line x1="465.7" y1="219.5" x2="467.5" y2="219.5" stroke="#222" stroke-width="0.8"/>
<line x1="457.5" y1="240.5" x2="459.3" y2="240.5" stroke="#222" stroke-width="0.8"/>
<line x1="465.7" y1="240.5" x2="467.5" y2="240.5" stroke="#222" stroke-width="0.8"/>
<text x="471.3" y="222.6" font-size="8.7" fill="#222" text-anchor="start">1000</text>
<text x="471.3" y="243.6" font-size="8.7" fill="#222" text-anchor="start">500</text>
<text x="-0.43" y="0" font-size="9.29" fill="#222" textLength="51.27" lengthAdjust="spacingAndGlyphs" transform="translate(498.8 260.3) rotate(-90)"><tspan font-size="9.29">Conc. (pg/ml)</tspan></text>
<text x="505.65" y="198.8" font-size="15.5" fill="#000" font-weight="bold" textLength="11.63" lengthAdjust="spacingAndGlyphs"><tspan font-size="15.5">H</tspan></text>
<line x1="553" y1="195.9" x2="553" y2="263.9" stroke="#555" stroke-width="1.4"/>
<line x1="552.4" y1="263.3" x2="597.5" y2="263.3" stroke="#555" stroke-width="1.4"/>
<line x1="549.5" y1="263.3" x2="553" y2="263.3" stroke="#555" stroke-width="1.1"/>
<text x="548.6" y="266.6" font-size="10.6" fill="#222" text-anchor="end" textLength="5.4" lengthAdjust="spacingAndGlyphs">0</text>
<line x1="549.5" y1="249.94" x2="553" y2="249.94" stroke="#555" stroke-width="1.1"/>
<text x="548.6" y="253.24" font-size="10.6" fill="#222" text-anchor="end" textLength="16.95" lengthAdjust="spacingAndGlyphs">500</text>
<line x1="549.5" y1="236.58" x2="553" y2="236.58" stroke="#555" stroke-width="1.1"/>
<text x="548.6" y="239.88" font-size="10.6" fill="#222" text-anchor="end" textLength="22.6" lengthAdjust="spacingAndGlyphs">1000</text>
<line x1="549.5" y1="223.22" x2="553" y2="223.22" stroke="#555" stroke-width="1.1"/>
<text x="548.6" y="226.52" font-size="10.6" fill="#222" text-anchor="end" textLength="22.6" lengthAdjust="spacingAndGlyphs">1500</text>
<line x1="549.5" y1="209.86" x2="553" y2="209.86" stroke="#555" stroke-width="1.1"/>
<text x="548.6" y="213.16" font-size="10.6" fill="#222" text-anchor="end" textLength="22.6" lengthAdjust="spacingAndGlyphs">2000</text>
<line x1="549.5" y1="196.5" x2="553" y2="196.5" stroke="#555" stroke-width="1.1"/>
<text x="548.6" y="199.8" font-size="10.6" fill="#222" text-anchor="end" textLength="22.6" lengthAdjust="spacingAndGlyphs">2500</text>
<line x1="561.6" y1="263.3" x2="561.6" y2="266.6" stroke="#555" stroke-width="1.1"/>
<line x1="575.2" y1="263.3" x2="575.2" y2="266.6" stroke="#555" stroke-width="1.1"/>
<line x1="588.5" y1="263.3" x2="588.5" y2="266.6" stroke="#555" stroke-width="1.1"/>
<circle cx="559.3" cy="240.7" r="1.9" fill="#f42a2a"/>
<circle cx="558.5" cy="243.5" r="1.9" fill="#f42a2a"/>
<circle cx="564.8" cy="242.2" r="1.9" fill="#f42a2a"/>
<circle cx="561.6" cy="248.1" r="1.9" fill="#f42a2a"/>
<circle cx="563.5" cy="242.8" r="1.9" fill="#f42a2a"/>
<rect x="573.3" y="205" width="3" height="3" fill="#f0902e"/>
<rect x="570.2" y="211.7" width="3" height="3" fill="#f0902e"/>
<rect x="571" y="214.8" width="3" height="3" fill="#f0902e"/>
<rect x="575.7" y="212.2" width="3" height="3" fill="#f0902e"/>
<rect x="576.8" y="212.5" width="3" height="3" fill="#f0902e"/>
<path d="M588.5 228.91 L590.5 232.39 L586.5 232.39 Z" fill="#3dbd60"/>
<path d="M585.7 233.61 L587.7 237.09 L583.7 237.09 Z" fill="#3dbd60"/>
<path d="M591.1 234.91 L593.1 238.39 L589.1 238.39 Z" fill="#3dbd60"/>
<path d="M586 237.91 L588 241.39 L584 241.39 Z" fill="#3dbd60"/>
<path d="M589.1 232.91 L591.1 236.39 L587.1 236.39 Z" fill="#3dbd60"/>
<line x1="557.4" y1="244.3" x2="565.8" y2="244.3" stroke="#f42a2a" stroke-width="1.2"/>
<line x1="561.6" y1="242.5" x2="561.6" y2="246.1" stroke="#f42a2a" stroke-width="0.9"/>
<line x1="559.8" y1="242.5" x2="563.4" y2="242.5" stroke="#f42a2a" stroke-width="0.9"/>
<line x1="559.8" y1="246.1" x2="563.4" y2="246.1" stroke="#f42a2a" stroke-width="0.9"/>
<line x1="571" y1="211.6" x2="579.4" y2="211.6" stroke="#f0902e" stroke-width="1.2"/>
<line x1="575.2" y1="209.8" x2="575.2" y2="213.4" stroke="#f0902e" stroke-width="0.9"/>
<line x1="573.4" y1="209.8" x2="577" y2="209.8" stroke="#f0902e" stroke-width="0.9"/>
<line x1="573.4" y1="213.4" x2="577" y2="213.4" stroke="#f0902e" stroke-width="0.9"/>
<line x1="584.3" y1="236" x2="592.7" y2="236" stroke="#3dbd60" stroke-width="1.2"/>
<line x1="588.5" y1="234.2" x2="588.5" y2="237.8" stroke="#3dbd60" stroke-width="0.9"/>
<line x1="586.7" y1="234.2" x2="590.3" y2="234.2" stroke="#3dbd60" stroke-width="0.9"/>
<line x1="586.7" y1="237.8" x2="590.3" y2="237.8" stroke="#3dbd60" stroke-width="0.9"/>
<path d="M560.3 197 L560.3 193.3 L589.7 193.3 L589.7 197" fill="none" stroke="#222" stroke-width="0.9"/>
<text x="574.7" y="193.92" font-size="8" fill="#1a1a1a" text-anchor="middle">*</text>
<text x="567.8" y="200.76" font-size="8.2" fill="#000" text-anchor="middle">****</text>
<text x="582.2" y="200.76" font-size="8.2" fill="#000" text-anchor="middle">****</text>
<path d="M560.3 201.8 L560.3 199.7 L589.7 199.7 L589.7 201.8" fill="none" stroke="#222" stroke-width="0.9"/>
<line x1="574.7" y1="199.7" x2="574.7" y2="201.8" stroke="#222" stroke-width="0.9"/>
<text x="-0.85" y="0" font-size="10.8" fill="#222" textLength="41.45" lengthAdjust="spacingAndGlyphs" transform="translate(521.6 246.7) rotate(-90)"><tspan font-size="10.8">IL-4 (MFI)</tspan></text>
<line x1="639.4" y1="195.7" x2="639.4" y2="263.9" stroke="#555" stroke-width="1.4"/>
<line x1="638.8" y1="263.3" x2="683.9" y2="263.3" stroke="#555" stroke-width="1.4"/>
<line x1="635.9" y1="263.3" x2="639.4" y2="263.3" stroke="#555" stroke-width="1.1"/>
<text x="635" y="266.6" font-size="10.6" fill="#222" text-anchor="end" textLength="5.4" lengthAdjust="spacingAndGlyphs">0</text>
<line x1="635.9" y1="246.55" x2="639.4" y2="246.55" stroke="#555" stroke-width="1.1"/>
<text x="635" y="249.85" font-size="10.6" fill="#222" text-anchor="end" textLength="16.95" lengthAdjust="spacingAndGlyphs">600</text>
<line x1="635.9" y1="229.8" x2="639.4" y2="229.8" stroke="#555" stroke-width="1.1"/>
<text x="635" y="233.1" font-size="10.6" fill="#222" text-anchor="end" textLength="22.6" lengthAdjust="spacingAndGlyphs">1200</text>
<line x1="635.9" y1="213.05" x2="639.4" y2="213.05" stroke="#555" stroke-width="1.1"/>
<text x="635" y="216.35" font-size="10.6" fill="#222" text-anchor="end" textLength="22.6" lengthAdjust="spacingAndGlyphs">1800</text>
<line x1="635.9" y1="196.3" x2="639.4" y2="196.3" stroke="#555" stroke-width="1.1"/>
<text x="635" y="199.6" font-size="10.6" fill="#222" text-anchor="end" textLength="22.6" lengthAdjust="spacingAndGlyphs">2400</text>
<line x1="648.3" y1="263.3" x2="648.3" y2="266.6" stroke="#555" stroke-width="1.1"/>
<line x1="662" y1="263.3" x2="662" y2="266.6" stroke="#555" stroke-width="1.1"/>
<line x1="675.8" y1="263.3" x2="675.8" y2="266.6" stroke="#555" stroke-width="1.1"/>
<circle cx="645.5" cy="249.4" r="1.9" fill="#f42a2a"/>
<circle cx="647.4" cy="248" r="1.9" fill="#f42a2a"/>
<circle cx="649.6" cy="248.4" r="1.9" fill="#f42a2a"/>
<circle cx="652.1" cy="248.4" r="1.9" fill="#f42a2a"/>
<circle cx="646.5" cy="250.3" r="1.9" fill="#f42a2a"/>
<rect x="659.3" y="209.3" width="3" height="3" fill="#f0902e"/>
<rect x="663.3" y="209.7" width="3" height="3" fill="#f0902e"/>
<rect x="660.8" y="212" width="3" height="3" fill="#f0902e"/>
<rect x="660.8" y="216.5" width="3" height="3" fill="#f0902e"/>
<rect x="660.5" y="221.8" width="3" height="3" fill="#f0902e"/>
<path d="M672.2 240.11 L674.2 243.59 L670.2 243.59 Z" fill="#3dbd60"/>
<path d="M674.8 238.11 L676.8 241.59 L672.8 241.59 Z" fill="#3dbd60"/>
<path d="M677.7 237.11 L679.7 240.59 L675.7 240.59 Z" fill="#3dbd60"/>
<path d="M678.5 234.91 L680.5 238.39 L676.5 238.39 Z" fill="#3dbd60"/>
<path d="M676 238.71 L678 242.19 L674 242.19 Z" fill="#3dbd60"/>
<line x1="644.1" y1="248.5" x2="652.5" y2="248.5" stroke="#f42a2a" stroke-width="1.2"/>
<line x1="648.3" y1="246.7" x2="648.3" y2="250.3" stroke="#f42a2a" stroke-width="0.9"/>
<line x1="646.5" y1="246.7" x2="650.1" y2="246.7" stroke="#f42a2a" stroke-width="0.9"/>
<line x1="646.5" y1="250.3" x2="650.1" y2="250.3" stroke="#f42a2a" stroke-width="0.9"/>
<line x1="657.8" y1="215.3" x2="666.2" y2="215.3" stroke="#f0902e" stroke-width="1.2"/>
<line x1="662" y1="213.5" x2="662" y2="217.1" stroke="#f0902e" stroke-width="0.9"/>
<line x1="660.2" y1="213.5" x2="663.8" y2="213.5" stroke="#f0902e" stroke-width="0.9"/>
<line x1="660.2" y1="217.1" x2="663.8" y2="217.1" stroke="#f0902e" stroke-width="0.9"/>
<line x1="671.6" y1="240" x2="680" y2="240" stroke="#3dbd60" stroke-width="1.2"/>
<line x1="675.8" y1="238.2" x2="675.8" y2="241.8" stroke="#3dbd60" stroke-width="0.9"/>
<line x1="674" y1="238.2" x2="677.6" y2="238.2" stroke="#3dbd60" stroke-width="0.9"/>
<line x1="674" y1="241.8" x2="677.6" y2="241.8" stroke="#3dbd60" stroke-width="0.9"/>
<path d="M646.8 197 L646.8 193.3 L676.2 193.3 L676.2 197" fill="none" stroke="#222" stroke-width="0.9"/>
<text x="662" y="193.92" font-size="8" fill="#1a1a1a" text-anchor="middle">*</text>
<text x="654.7" y="200.76" font-size="8.2" fill="#000" text-anchor="middle">****</text>
<text x="669.1" y="200.76" font-size="8.2" fill="#000" text-anchor="middle">****</text>
<path d="M646.8 201.8 L646.8 199.7 L676.2 199.7 L676.2 201.8" fill="none" stroke="#222" stroke-width="0.9"/>
<line x1="662" y1="199.7" x2="662" y2="201.8" stroke="#222" stroke-width="0.9"/>
<text x="-0.85" y="0" font-size="10.8" fill="#222" textLength="46.44" lengthAdjust="spacingAndGlyphs" transform="translate(607.8 250) rotate(-90)"><tspan font-size="10.8">IL-10 (MFI)</tspan></text>
<circle cx="471.3" cy="276.3" r="2.4" fill="#f42a2a"/>
<text x="480.5" y="280.8" font-size="10.98" fill="#f42a2a" textLength="65.01" lengthAdjust="spacingAndGlyphs"><tspan font-size="6.4" dy="-2.9">Allo</tspan><tspan font-size="10.98" dy="2.9">CAR70-NKT</tspan></text>
<rect x="556.3" y="274.2" width="4.5" height="4.5" fill="#e8843c"/>
<text x="566.23" y="280.8" font-size="10.98" fill="#e8843c" textLength="118.4" lengthAdjust="spacingAndGlyphs"><tspan font-size="6.4" dy="-2.9">PBMC</tspan><tspan font-size="10.98" dy="2.9">CAR70-NKT (CD4 SP)</tspan></text>
<path d="M542.2 288.06 L545.3 293.46 L539.1 293.46 Z" fill="#3dbd60"/>
<text x="549.54" y="295.8" font-size="10.98" fill="#3dbd60" textLength="133.38" lengthAdjust="spacingAndGlyphs"><tspan font-size="6.4" dy="-2.9">PBMC</tspan><tspan font-size="10.98" dy="2.9">CAR70-NKT (CD8 SP/DN)</tspan></text>
<text x="1.71" y="327.9" font-size="15.5" fill="#000" font-weight="bold" textLength="4.22" lengthAdjust="spacingAndGlyphs"><tspan font-size="15.5">I</tspan></text>
<line x1="32.8" y1="347.3" x2="32.8" y2="416.4" stroke="#333" stroke-width="1.1"/>
<line x1="32.3" y1="415.9" x2="74.3" y2="415.9" stroke="#333" stroke-width="1.1"/>
<line x1="29.6" y1="415.9" x2="32.8" y2="415.9" stroke="#333" stroke-width="1"/>
<text x="29.4" y="419.3" font-size="10.22" fill="#1a1a1a" text-anchor="end" textLength="5.34" lengthAdjust="spacingAndGlyphs">0</text>
<line x1="29.6" y1="402.28" x2="32.8" y2="402.28" stroke="#333" stroke-width="1"/>
<text x="29.4" y="405.68" font-size="10.22" fill="#1a1a1a" text-anchor="end" textLength="10.68" lengthAdjust="spacingAndGlyphs">20</text>
<line x1="29.6" y1="388.66" x2="32.8" y2="388.66" stroke="#333" stroke-width="1"/>
<text x="29.4" y="392.06" font-size="10.22" fill="#1a1a1a" text-anchor="end" textLength="10.68" lengthAdjust="spacingAndGlyphs">40</text>
<line x1="29.6" y1="375.04" x2="32.8" y2="375.04" stroke="#333" stroke-width="1"/>
<text x="29.4" y="378.44" font-size="10.22" fill="#1a1a1a" text-anchor="end" textLength="10.68" lengthAdjust="spacingAndGlyphs">60</text>
<line x1="29.6" y1="361.42" x2="32.8" y2="361.42" stroke="#333" stroke-width="1"/>
<text x="29.4" y="364.82" font-size="10.22" fill="#1a1a1a" text-anchor="end" textLength="10.68" lengthAdjust="spacingAndGlyphs">80</text>
<line x1="29.6" y1="347.8" x2="32.8" y2="347.8" stroke="#333" stroke-width="1"/>
<text x="29.4" y="351.2" font-size="10.22" fill="#1a1a1a" text-anchor="end" textLength="16.02" lengthAdjust="spacingAndGlyphs">100</text>
<line x1="44.5" y1="415.9" x2="44.5" y2="419" stroke="#333" stroke-width="1"/>
<line x1="62.6" y1="415.9" x2="62.6" y2="419" stroke="#333" stroke-width="1"/>
<rect x="38.4" y="369.59" width="12.2" height="46.31" fill="#fb2a12" stroke="#222" stroke-width="1"/>
<rect x="56.5" y="415.08" width="12.2" height="0.82" fill="#2a16ff" stroke="#222" stroke-width="1"/>
<line x1="44.5" y1="371.29" x2="44.5" y2="367.21" stroke="#111" stroke-width="1"/>
<line x1="42" y1="367.21" x2="47" y2="367.21" stroke="#111" stroke-width="1"/>
<line x1="42" y1="371.29" x2="47" y2="371.29" stroke="#111" stroke-width="1"/>
<line x1="62.6" y1="415.56" x2="62.6" y2="414.67" stroke="#111" stroke-width="1"/>
<line x1="60.1" y1="414.67" x2="65.1" y2="414.67" stroke="#111" stroke-width="1"/>
<line x1="60.1" y1="415.56" x2="65.1" y2="415.56" stroke="#111" stroke-width="1"/>
<path d="M44.1 344.7 L44.1 342.3 L61.8 342.3 L61.8 344.7" fill="none" stroke="#222" stroke-width="0.9"/>
<text x="52.95" y="343.01" font-size="9" fill="#1a1a1a" text-anchor="middle">****</text>
<text x="39.31" y="332.6" font-size="10.3" fill="#6331c2" textLength="28.81" lengthAdjust="spacingAndGlyphs"><tspan font-size="10.3">CD56</tspan><tspan font-size="6.8" dy="-3.9">+</tspan></text>
<line x1="82.8" y1="347.3" x2="82.8" y2="416.4" stroke="#333" stroke-width="1.1"/>
<line x1="82.3" y1="415.9" x2="124.3" y2="415.9" stroke="#333" stroke-width="1.1"/>
<line x1="79.6" y1="415.9" x2="82.8" y2="415.9" stroke="#333" stroke-width="1"/>
<line x1="79.6" y1="402.28" x2="82.8" y2="402.28" stroke="#333" stroke-width="1"/>
<line x1="79.6" y1="388.66" x2="82.8" y2="388.66" stroke="#333" stroke-width="1"/>
<line x1="79.6" y1="375.04" x2="82.8" y2="375.04" stroke="#333" stroke-width="1"/>
<line x1="79.6" y1="361.42" x2="82.8" y2="361.42" stroke="#333" stroke-width="1"/>
<line x1="79.6" y1="347.8" x2="82.8" y2="347.8" stroke="#333" stroke-width="1"/>
<line x1="94.5" y1="415.9" x2="94.5" y2="419" stroke="#333" stroke-width="1"/>
<line x1="112.6" y1="415.9" x2="112.6" y2="419" stroke="#333" stroke-width="1"/>
<rect x="88.4" y="351.2" width="12.2" height="64.69" fill="#fb2a12" stroke="#222" stroke-width="1"/>
<rect x="106.5" y="368.23" width="12.2" height="47.67" fill="#2a16ff" stroke="#222" stroke-width="1"/>
<line x1="94.5" y1="352.23" x2="94.5" y2="350.18" stroke="#111" stroke-width="1"/>
<line x1="92" y1="350.18" x2="97" y2="350.18" stroke="#111" stroke-width="1"/>
<line x1="92" y1="352.23" x2="97" y2="352.23" stroke="#111" stroke-width="1"/>
<line x1="112.6" y1="373" x2="112.6" y2="363.46" stroke="#111" stroke-width="1"/>
<line x1="110.1" y1="363.46" x2="115.1" y2="363.46" stroke="#111" stroke-width="1"/>
<line x1="110.1" y1="373" x2="115.1" y2="373" stroke="#111" stroke-width="1"/>
<path d="M94.1 344.7 L94.1 342.3 L111.8 342.3 L111.8 344.7" fill="none" stroke="#222" stroke-width="0.9"/>
<text x="102.95" y="343.01" font-size="9" fill="#1a1a1a" text-anchor="middle">**</text>
<text x="85.02" y="332.6" font-size="10.3" fill="#6331c2" textLength="37.29" lengthAdjust="spacingAndGlyphs"><tspan font-size="10.3">NKG2D</tspan><tspan font-size="6.8" dy="-3.9">+</tspan></text>
<line x1="135" y1="347.3" x2="135" y2="416.4" stroke="#333" stroke-width="1.1"/>
<line x1="134.5" y1="415.9" x2="176.5" y2="415.9" stroke="#333" stroke-width="1.1"/>
<line x1="131.8" y1="415.9" x2="135" y2="415.9" stroke="#333" stroke-width="1"/>
<line x1="131.8" y1="402.28" x2="135" y2="402.28" stroke="#333" stroke-width="1"/>
<line x1="131.8" y1="388.66" x2="135" y2="388.66" stroke="#333" stroke-width="1"/>
<line x1="131.8" y1="375.04" x2="135" y2="375.04" stroke="#333" stroke-width="1"/>
<line x1="131.8" y1="361.42" x2="135" y2="361.42" stroke="#333" stroke-width="1"/>
<line x1="131.8" y1="347.8" x2="135" y2="347.8" stroke="#333" stroke-width="1"/>
<line x1="146.7" y1="415.9" x2="146.7" y2="419" stroke="#333" stroke-width="1"/>
<line x1="164.8" y1="415.9" x2="164.8" y2="419" stroke="#333" stroke-width="1"/>
<rect x="140.6" y="349.84" width="12.2" height="66.06" fill="#fb2a12" stroke="#222" stroke-width="1"/>
<rect x="158.7" y="357.33" width="12.2" height="58.57" fill="#2a16ff" stroke="#222" stroke-width="1"/>
<line x1="146.7" y1="350.52" x2="146.7" y2="349.16" stroke="#111" stroke-width="1"/>
<line x1="144.2" y1="349.16" x2="149.2" y2="349.16" stroke="#111" stroke-width="1"/>
<line x1="144.2" y1="350.52" x2="149.2" y2="350.52" stroke="#111" stroke-width="1"/>
<line x1="164.8" y1="359.72" x2="164.8" y2="355.29" stroke="#111" stroke-width="1"/>
<line x1="162.3" y1="355.29" x2="167.3" y2="355.29" stroke="#111" stroke-width="1"/>
<line x1="162.3" y1="359.72" x2="167.3" y2="359.72" stroke="#111" stroke-width="1"/>
<path d="M146.3 344.7 L146.3 342.3 L164 342.3 L164 344.7" fill="none" stroke="#222" stroke-width="0.9"/>
<text x="155.15" y="343.01" font-size="9" fill="#1a1a1a" text-anchor="middle">*</text>
<text x="135.32" y="332.6" font-size="10.3" fill="#6331c2" textLength="40.99" lengthAdjust="spacingAndGlyphs"><tspan font-size="10.3">DNAM-1</tspan><tspan font-size="6.8" dy="-3.9">+</tspan></text>
<line x1="188.3" y1="347.3" x2="188.3" y2="416.4" stroke="#333" stroke-width="1.1"/>
<line x1="187.8" y1="415.9" x2="229.8" y2="415.9" stroke="#333" stroke-width="1.1"/>
<line x1="185.1" y1="415.9" x2="188.3" y2="415.9" stroke="#333" stroke-width="1"/>
<line x1="185.1" y1="402.28" x2="188.3" y2="402.28" stroke="#333" stroke-width="1"/>
<line x1="185.1" y1="388.66" x2="188.3" y2="388.66" stroke="#333" stroke-width="1"/>
<line x1="185.1" y1="375.04" x2="188.3" y2="375.04" stroke="#333" stroke-width="1"/>
<line x1="185.1" y1="361.42" x2="188.3" y2="361.42" stroke="#333" stroke-width="1"/>
<line x1="185.1" y1="347.8" x2="188.3" y2="347.8" stroke="#333" stroke-width="1"/>
<line x1="200" y1="415.9" x2="200" y2="419" stroke="#333" stroke-width="1"/>
<line x1="218.1" y1="415.9" x2="218.1" y2="419" stroke="#333" stroke-width="1"/>
<rect x="193.9" y="366.87" width="12.2" height="49.03" fill="#fb2a12" stroke="#222" stroke-width="1"/>
<rect x="212" y="390.7" width="12.2" height="25.2" fill="#2a16ff" stroke="#222" stroke-width="1"/>
<line x1="200" y1="368.91" x2="200" y2="364.48" stroke="#111" stroke-width="1"/>
<line x1="197.5" y1="364.48" x2="202.5" y2="364.48" stroke="#111" stroke-width="1"/>
<line x1="197.5" y1="368.91" x2="202.5" y2="368.91" stroke="#111" stroke-width="1"/>
<line x1="218.1" y1="394.11" x2="218.1" y2="386.96" stroke="#111" stroke-width="1"/>
<line x1="215.6" y1="386.96" x2="220.6" y2="386.96" stroke="#111" stroke-width="1"/>
<line x1="215.6" y1="394.11" x2="220.6" y2="394.11" stroke="#111" stroke-width="1"/>
<path d="M199.6 344.7 L199.6 342.3 L217.3 342.3 L217.3 344.7" fill="none" stroke="#222" stroke-width="0.9"/>
<text x="208.45" y="343.01" font-size="9" fill="#1a1a1a" text-anchor="middle">**</text>
<text x="191.71" y="332.6" font-size="10.3" fill="#6331c2" textLength="34.11" lengthAdjust="spacingAndGlyphs"><tspan font-size="10.3">NKp44</tspan><tspan font-size="6.8" dy="-3.9">+</tspan></text>
<line x1="243.3" y1="347.3" x2="243.3" y2="416.4" stroke="#333" stroke-width="1.1"/>
<line x1="242.8" y1="415.9" x2="284.8" y2="415.9" stroke="#333" stroke-width="1.1"/>
<line x1="240.1" y1="415.9" x2="243.3" y2="415.9" stroke="#333" stroke-width="1"/>
<line x1="240.1" y1="402.28" x2="243.3" y2="402.28" stroke="#333" stroke-width="1"/>
<line x1="240.1" y1="388.66" x2="243.3" y2="388.66" stroke="#333" stroke-width="1"/>
<line x1="240.1" y1="375.04" x2="243.3" y2="375.04" stroke="#333" stroke-width="1"/>
<line x1="240.1" y1="361.42" x2="243.3" y2="361.42" stroke="#333" stroke-width="1"/>
<line x1="240.1" y1="347.8" x2="243.3" y2="347.8" stroke="#333" stroke-width="1"/>
<line x1="255" y1="415.9" x2="255" y2="419" stroke="#333" stroke-width="1"/>
<line x1="273.1" y1="415.9" x2="273.1" y2="419" stroke="#333" stroke-width="1"/>
<rect x="248.9" y="356.65" width="12.2" height="59.25" fill="#fb2a12" stroke="#222" stroke-width="1"/>
<rect x="267" y="374.36" width="12.2" height="41.54" fill="#2a16ff" stroke="#222" stroke-width="1"/>
<line x1="255" y1="359.38" x2="255" y2="353.59" stroke="#111" stroke-width="1"/>
<line x1="252.5" y1="353.59" x2="257.5" y2="353.59" stroke="#111" stroke-width="1"/>
<line x1="252.5" y1="359.38" x2="257.5" y2="359.38" stroke="#111" stroke-width="1"/>
<line x1="273.1" y1="376.4" x2="273.1" y2="371.98" stroke="#111" stroke-width="1"/>
<line x1="270.6" y1="371.98" x2="275.6" y2="371.98" stroke="#111" stroke-width="1"/>
<line x1="270.6" y1="376.4" x2="275.6" y2="376.4" stroke="#111" stroke-width="1"/>
<path d="M254.6 344.7 L254.6 342.3 L272.3 342.3 L272.3 344.7" fill="none" stroke="#222" stroke-width="0.9"/>
<text x="263.45" y="343.01" font-size="9" fill="#1a1a1a" text-anchor="middle">**</text>
<text x="246.71" y="332.6" font-size="10.3" fill="#6331c2" textLength="34.11" lengthAdjust="spacingAndGlyphs"><tspan font-size="10.3">NKp30</tspan><tspan font-size="6.8" dy="-3.9">+</tspan></text>
<circle cx="40" cy="362.8" r="1.6" fill="#000"/>
<circle cx="44.7" cy="366.3" r="1.6" fill="#000"/>
<circle cx="40.5" cy="375.3" r="1.6" fill="#000"/>
<circle cx="49.2" cy="372.5" r="1.6" fill="#000"/>
<circle cx="90.5" cy="348.3" r="1.6" fill="#000"/>
<circle cx="89.7" cy="353" r="1.6" fill="#000"/>
<circle cx="94.2" cy="350.5" r="1.6" fill="#000"/>
<circle cx="99.2" cy="352.5" r="1.6" fill="#000"/>
<circle cx="141.5" cy="349" r="1.6" fill="#000"/>
<circle cx="145.5" cy="348.5" r="1.6" fill="#000"/>
<circle cx="150" cy="348.7" r="1.6" fill="#000"/>
<circle cx="144.5" cy="349.5" r="1.6" fill="#000"/>
<circle cx="197.5" cy="359" r="1.6" fill="#000"/>
<circle cx="199.5" cy="367" r="1.6" fill="#000"/>
<circle cx="195" cy="370.5" r="1.6" fill="#000"/>
<circle cx="204" cy="370.5" r="1.6" fill="#000"/>
<circle cx="249" cy="349" r="1.6" fill="#000"/>
<circle cx="253.5" cy="351.5" r="1.6" fill="#000"/>
<circle cx="254" cy="365.5" r="1.6" fill="#000"/>
<circle cx="252" cy="356.5" r="1.6" fill="#000"/>
<circle cx="59" cy="414.8" r="1.6" fill="#000"/>
<circle cx="62.2" cy="414" r="1.6" fill="#000"/>
<circle cx="65.4" cy="414.4" r="1.6" fill="#000"/>
<circle cx="67.6" cy="414.2" r="1.6" fill="#000"/>
<rect x="111.55" y="357.05" width="2.9" height="2.9" fill="#000"/>
<rect x="115.05" y="364.55" width="2.9" height="2.9" fill="#000"/>
<rect x="111.05" y="367.05" width="2.9" height="2.9" fill="#000"/>
<rect x="110.05" y="372.05" width="2.9" height="2.9" fill="#000"/>
<rect x="163.05" y="354.55" width="2.9" height="2.9" fill="#000"/>
<rect x="167.05" y="357.05" width="2.9" height="2.9" fill="#000"/>
<rect x="163.05" y="361.05" width="2.9" height="2.9" fill="#000"/>
<rect x="164.55" y="356.05" width="2.9" height="2.9" fill="#000"/>
<rect x="216.05" y="378.55" width="2.9" height="2.9" fill="#000"/>
<rect x="220.55" y="389.55" width="2.9" height="2.9" fill="#000"/>
<rect x="216.05" y="394.55" width="2.9" height="2.9" fill="#000"/>
<rect x="216.55" y="389.05" width="2.9" height="2.9" fill="#000"/>
<rect x="271.55" y="364.05" width="2.9" height="2.9" fill="#000"/>
<rect x="271.55" y="372.55" width="2.9" height="2.9" fill="#000"/>
<rect x="266.55" y="377.55" width="2.9" height="2.9" fill="#000"/>
<rect x="276.05" y="375.55" width="2.9" height="2.9" fill="#000"/>
<text x="-0.32" y="0" font-size="10.8" fill="#1a1a1a" textLength="54.55" lengthAdjust="spacingAndGlyphs" transform="translate(12.8 407.6) rotate(-90)"><tspan font-size="10.8">% NKR</tspan><tspan font-size="6.6" dy="-3.13">+</tspan><tspan font-size="10.8" dy="3.13"> cells</tspan></text>
<rect x="61.3" y="429.2" width="7.9" height="7.5" fill="#fb2a12" stroke="#222" stroke-width="0.9"/>
<text x="72.5" y="436.3" font-size="10.98" fill="#fa2a1c" textLength="65.21" lengthAdjust="spacingAndGlyphs"><tspan font-size="6.4" dy="-2.9">Allo</tspan><tspan font-size="10.98" dy="2.9">CAR70-NKT</tspan></text>
<rect x="148" y="429.2" width="7.8" height="7.5" fill="#2a16ff" stroke="#222" stroke-width="0.9"/>
<text x="162.03" y="436.3" font-size="10.98" fill="#2a2aff" textLength="73.18" lengthAdjust="spacingAndGlyphs"><tspan font-size="6.4" dy="-2.9">PBMC</tspan><tspan font-size="10.98" dy="2.9">CAR70-NKT</tspan></text>
<text x="291.77" y="327.9" font-size="15.5" fill="#000" font-weight="bold" textLength="8.43" lengthAdjust="spacingAndGlyphs"><tspan font-size="15.5">J</tspan></text>
<path d="M316.45 400.53 L326.84 399.35 L331.29 397.57 L334.26 394.9 L336.48 389.7 L337.96 384.51 L339.45 375.61 L340.49 369.67 L341.67 360.77 L342.86 357.51 L343.9 358.55 L344.94 363.74 L346.12 375.61 L347.01 387.48 L347.91 397.12 L348.8 400.53 Z" fill="#505050" stroke-linejoin="round"/>
<path d="M315.26 400.53 L315.26 342.97 L316.15 342.97 L316.45 396.38 L318.68 397.12 L320.9 397.57 L323.87 396.38 L326.84 396.08 L329.06 394.15 L331.29 392.23 L333.51 389.7 L334.26 385.25 L335.74 383.77 L337.22 378.58 L338.41 373.38 L339.45 362.26 L340.49 358.55 L341.67 353.35 L342.86 347.42 L343.75 351.13 L344.64 354.09 L345.83 358.55 L346.87 362.26 L347.61 368.93 L348.5 371.16 L349.83 370.42 L350.87 367.45 L351.76 368.19 L352.8 369.67 L353.54 365.96 L354.58 371.9 L355.77 378.58 L357.25 385.25 L358.74 391.19 L360.22 397.12 L362.15 400.09 L363.93 400.53" fill="none" stroke="#2020ff" stroke-width="1.5" stroke-linejoin="round"/>
<path d="M334.26 400.53 L339.45 399.64 L342.42 398.61 L345.38 394.15 L347.31 389.7 L348.8 383.03 L349.83 374.12 L350.87 363.74 L352.06 356.32 L353.25 350.39 L354.14 347.42 L355.03 349.64 L355.92 354.09 L356.81 360.77 L357.7 369.67 L358.59 380.06 L359.77 388.96 L361.26 395.64 L363.19 399.35 L366.15 400.53" fill="none" stroke="#ff2020" stroke-width="1.5" stroke-linejoin="round"/>
<rect x="315.7" y="343.3" width="57.9" height="57.5" fill="none" stroke="#222" stroke-width="1"/>
<path d="M379.15 400.53 L385.39 400.24 L389.84 399.94 L392.8 399.64 L395.03 398.75 L397.26 397.12 L399.48 394.6 L401.41 391.19 L402.89 386.74 L404.08 380.06 L405.12 371.9 L406.16 362.26 L407.2 354.09 L408.23 347.42 L409.12 352.61 L410.01 360.77 L410.91 372.64 L411.8 383.03 L412.69 391.93 L413.58 397.12 L414.76 400.09 L415.8 400.53 Z" fill="#505050" stroke-linejoin="round"/>
<path d="M414.76 400.53 L416.84 399.64 L418.03 397.12 L418.92 390.45 L419.51 381.54 L420.1 369.67 L420.7 360.77 L421.44 354.09 L422.18 350.39 L422.92 347.12 L423.66 348.9 L424.26 354.84 L424.85 360.03 L425.74 362.26 L426.48 371.16 L427.23 381.54 L428.12 391.93 L429.3 398.61 L431.08 400.53" fill="none" stroke="#2020ff" stroke-width="1.5" stroke-linejoin="round"/>
<path d="M420.25 400.53 L422.18 399.64 L423.96 398.16 L425.45 393.41 L426.63 384.51 L427.67 374.12 L428.71 363.74 L429.6 354.84 L430.34 348.9 L431.08 347.12 L431.82 351.13 L432.57 357.06 L433.46 368.19 L434.35 380.06 L435.24 391.93 L436.13 399.35 L437.02 400.53" fill="none" stroke="#ff2020" stroke-width="1.5" stroke-linejoin="round"/>
<rect x="378.7" y="343.3" width="58.3" height="57.5" fill="none" stroke="#222" stroke-width="1"/>
<line x1="313.8" y1="400.8" x2="315.7" y2="400.8" stroke="#333" stroke-width="0.6"/>
<text x="313.5" y="402.3" font-size="4.3" fill="#333" text-anchor="end">0</text>
<line x1="313.8" y1="390.04" x2="315.7" y2="390.04" stroke="#333" stroke-width="0.6"/>
<text x="313.5" y="391.54" font-size="4.3" fill="#333" text-anchor="end">20</text>
<line x1="313.8" y1="379.28" x2="315.7" y2="379.28" stroke="#333" stroke-width="0.6"/>
<text x="313.5" y="380.78" font-size="4.3" fill="#333" text-anchor="end">40</text>
<line x1="313.8" y1="368.52" x2="315.7" y2="368.52" stroke="#333" stroke-width="0.6"/>
<text x="313.5" y="370.02" font-size="4.3" fill="#333" text-anchor="end">60</text>
<line x1="313.8" y1="357.76" x2="315.7" y2="357.76" stroke="#333" stroke-width="0.6"/>
<text x="313.5" y="359.26" font-size="4.3" fill="#333" text-anchor="end">80</text>
<line x1="313.8" y1="347" x2="315.7" y2="347" stroke="#333" stroke-width="0.6"/>
<text x="313.5" y="348.5" font-size="4.3" fill="#333" text-anchor="end">100</text>
<text x="318" y="406.2" font-size="4.3" fill="#333" text-anchor="middle">0</text>
<text x="323.3" y="406.2" font-size="4.3" fill="#333" text-anchor="middle">10<tspan font-size="2.8" dy="-1.5">2</tspan></text>
<text x="338.3" y="406.2" font-size="4.3" fill="#333" text-anchor="middle">10<tspan font-size="2.8" dy="-1.5">3</tspan></text>
<text x="350.8" y="406.2" font-size="4.3" fill="#333" text-anchor="middle">10<tspan font-size="2.8" dy="-1.5">4</tspan></text>
<text x="364.2" y="406.2" font-size="4.3" fill="#333" text-anchor="middle">10<tspan font-size="2.8" dy="-1.5">5</tspan></text>
<text x="-0.46" y="0" font-size="10.37" fill="#1a1a1a" textLength="41.34" lengthAdjust="spacingAndGlyphs" transform="translate(303.1 401.6) rotate(-90)"><tspan font-size="10.37">Cell count</tspan></text>
<line x1="299.4" y1="359" x2="299.4" y2="344.5" stroke="#222" stroke-width="0.9"/>
<path d="M297.3 347 L299.4 344.2 L301.5 347" fill="none" stroke="#222" stroke-width="0.9"/>
<text x="314.21" y="418" font-size="10.4" fill="#1a1a1a" textLength="34.39" lengthAdjust="spacingAndGlyphs"><tspan font-size="10.4">Perforin</tspan></text>
<line x1="348.5" y1="414.2" x2="373.8" y2="414.2" stroke="#222" stroke-width="0.9"/>
<path d="M370.8 412 L374 414.2 L370.8 416.4" fill="none" stroke="#222" stroke-width="0.9"/>
<text x="314.57" y="428.6" font-size="10.4" fill="#1a1a1a" textLength="35.91" lengthAdjust="spacingAndGlyphs"><tspan font-size="10.4">-PE-Cy7</tspan></text>
<text x="377.12" y="418" font-size="10.4" fill="#1a1a1a" textLength="53.89" lengthAdjust="spacingAndGlyphs"><tspan font-size="10.4">Granzyme B</tspan></text>
<line x1="433.1" y1="414.5" x2="445.6" y2="414.5" stroke="#222" stroke-width="0.9"/>
<path d="M441.8 411.8 L445.9 414.5 L441.8 417.2" fill="none" stroke="#222" stroke-width="0.9"/>
<text x="376.86" y="428.6" font-size="10.4" fill="#1a1a1a" textLength="23.3" lengthAdjust="spacingAndGlyphs"><tspan font-size="10.4">-APC</tspan></text>
<rect x="443.8" y="344.7" width="10" height="9.1" fill="#707070"/>
<text x="458.82" y="353" font-size="10.26" fill="#1a1a1a" textLength="31.59" lengthAdjust="spacingAndGlyphs"><tspan font-size="10.26">Isotype</tspan></text>
<rect x="444.3" y="365.8" width="9" height="9" fill="none" stroke="#ff2020" stroke-width="1"/>
<text x="459.7" y="368.4" font-size="10.37" fill="#fa2a1c" textLength="41.96" lengthAdjust="spacingAndGlyphs"><tspan font-size="6.4" dy="-2.9">Allo</tspan><tspan font-size="10.37" dy="2.9">CAR70</tspan></text>
<text x="459.28" y="379.6" font-size="10.37" fill="#fa2a1c" textLength="21.71" lengthAdjust="spacingAndGlyphs"><tspan font-size="10.37">-NKT</tspan></text>
<rect x="444.3" y="390.2" width="9" height="9" fill="none" stroke="#2020ff" stroke-width="1"/>
<text x="459.51" y="393.1" font-size="10.37" fill="#2a2aff" textLength="49.65" lengthAdjust="spacingAndGlyphs"><tspan font-size="6.4" dy="-2.9">PBMC</tspan><tspan font-size="10.37" dy="2.9">CAR70</tspan></text>
<text x="459.28" y="404.3" font-size="10.37" fill="#2a2aff" textLength="21.71" lengthAdjust="spacingAndGlyphs"><tspan font-size="10.37">-NKT</tspan></text>
<text x="508.19" y="327.9" font-size="15.5" fill="#000" font-weight="bold" textLength="11.2" lengthAdjust="spacingAndGlyphs"><tspan font-size="15.5">K</tspan></text>
<text x="564.21" y="328.3" font-size="10.3" fill="#6331c2" textLength="86.83" lengthAdjust="spacingAndGlyphs"><tspan font-size="10.3">Cytotoxic molecules</tspan></text>
<line x1="540.8" y1="334.2" x2="671.8" y2="334.2" stroke="#555" stroke-width="1.3"/>
<line x1="550" y1="347.8" x2="550" y2="416.9" stroke="#333" stroke-width="1.1"/>
<line x1="549.5" y1="416.4" x2="591.8" y2="416.4" stroke="#333" stroke-width="1.1"/>
<line x1="546.8" y1="416.4" x2="550" y2="416.4" stroke="#333" stroke-width="1"/>
<text x="545.9" y="419.8" font-size="10.22" fill="#1a1a1a" text-anchor="end" textLength="5.34" lengthAdjust="spacingAndGlyphs">0</text>
<line x1="546.8" y1="402.78" x2="550" y2="402.78" stroke="#333" stroke-width="1"/>
<text x="545.9" y="406.18" font-size="10.22" fill="#1a1a1a" text-anchor="end" textLength="5.34" lengthAdjust="spacingAndGlyphs">2</text>
<line x1="546.8" y1="389.16" x2="550" y2="389.16" stroke="#333" stroke-width="1"/>
<text x="545.9" y="392.56" font-size="10.22" fill="#1a1a1a" text-anchor="end" textLength="5.34" lengthAdjust="spacingAndGlyphs">4</text>
<line x1="546.8" y1="375.54" x2="550" y2="375.54" stroke="#333" stroke-width="1"/>
<text x="545.9" y="378.94" font-size="10.22" fill="#1a1a1a" text-anchor="end" textLength="5.34" lengthAdjust="spacingAndGlyphs">6</text>
<line x1="546.8" y1="361.92" x2="550" y2="361.92" stroke="#333" stroke-width="1"/>
<text x="545.9" y="365.32" font-size="10.22" fill="#1a1a1a" text-anchor="end" textLength="5.34" lengthAdjust="spacingAndGlyphs">8</text>
<line x1="546.8" y1="348.3" x2="550" y2="348.3" stroke="#333" stroke-width="1"/>
<text x="545.9" y="351.7" font-size="10.22" fill="#1a1a1a" text-anchor="end" textLength="10.68" lengthAdjust="spacingAndGlyphs">10</text>
<line x1="562.3" y1="416.4" x2="562.3" y2="419.5" stroke="#333" stroke-width="1"/>
<line x1="580.3" y1="416.4" x2="580.3" y2="419.5" stroke="#333" stroke-width="1"/>
<rect x="556.3" y="359.88" width="12" height="56.52" fill="#fb2a12" stroke="#222" stroke-width="1"/>
<rect x="574.3" y="398.01" width="12" height="18.39" fill="#2a16ff" stroke="#222" stroke-width="1"/>
<line x1="562.3" y1="364.64" x2="562.3" y2="355.11" stroke="#111" stroke-width="1"/>
<line x1="559.8" y1="355.11" x2="564.8" y2="355.11" stroke="#111" stroke-width="1"/>
<line x1="559.8" y1="364.64" x2="564.8" y2="364.64" stroke="#111" stroke-width="1"/>
<line x1="580.3" y1="401.42" x2="580.3" y2="394.61" stroke="#111" stroke-width="1"/>
<line x1="577.8" y1="394.61" x2="582.8" y2="394.61" stroke="#111" stroke-width="1"/>
<line x1="577.8" y1="401.42" x2="582.8" y2="401.42" stroke="#111" stroke-width="1"/>
<path d="M561.8 345.3 L561.8 342.9 L578.8 342.9 L578.8 345.3" fill="none" stroke="#222" stroke-width="0.9"/>
<text x="570.3" y="343.51" font-size="9" fill="#1a1a1a" text-anchor="middle">**</text>
<circle cx="566.7" cy="353.7" r="1.6" fill="#000"/>
<circle cx="562" cy="356.8" r="1.6" fill="#000"/>
<circle cx="567.2" cy="357.5" r="1.6" fill="#000"/>
<circle cx="562.5" cy="369.7" r="1.6" fill="#000"/>
<rect x="574.85" y="393.25" width="2.9" height="2.9" fill="#000"/>
<rect x="583.25" y="395.55" width="2.9" height="2.9" fill="#000"/>
<rect x="579.05" y="401.85" width="2.9" height="2.9" fill="#000"/>
<rect x="577.55" y="396.55" width="2.9" height="2.9" fill="#000"/>
<text x="-0.75" y="0" font-size="10.37" fill="#1a1a1a" textLength="32.82" lengthAdjust="spacingAndGlyphs" transform="translate(522 396.7) rotate(-90)"><tspan font-size="10.37">Perforin</tspan></text>
<text x="-0.59" y="0" font-size="10.37" fill="#1a1a1a" textLength="50.71" lengthAdjust="spacingAndGlyphs" transform="translate(533.6 405.5) rotate(-90)"><tspan font-size="10.37">(MFI; x 10</tspan><tspan font-size="6.4" dy="-3.01">3</tspan><tspan font-size="10.37" dy="3.01">)</tspan></text>
<line x1="636.5" y1="347.8" x2="636.5" y2="416.9" stroke="#333" stroke-width="1.1"/>
<line x1="636" y1="416.4" x2="678.3" y2="416.4" stroke="#333" stroke-width="1.1"/>
<line x1="633.3" y1="416.4" x2="636.5" y2="416.4" stroke="#333" stroke-width="1"/>
<text x="632.4" y="419.8" font-size="10.22" fill="#1a1a1a" text-anchor="end" textLength="5.34" lengthAdjust="spacingAndGlyphs">0</text>
<line x1="633.3" y1="402.78" x2="636.5" y2="402.78" stroke="#333" stroke-width="1"/>
<text x="632.4" y="406.18" font-size="10.22" fill="#1a1a1a" text-anchor="end" textLength="5.34" lengthAdjust="spacingAndGlyphs">2</text>
<line x1="633.3" y1="389.16" x2="636.5" y2="389.16" stroke="#333" stroke-width="1"/>
<text x="632.4" y="392.56" font-size="10.22" fill="#1a1a1a" text-anchor="end" textLength="5.34" lengthAdjust="spacingAndGlyphs">4</text>
<line x1="633.3" y1="375.54" x2="636.5" y2="375.54" stroke="#333" stroke-width="1"/>
<text x="632.4" y="378.94" font-size="10.22" fill="#1a1a1a" text-anchor="end" textLength="5.34" lengthAdjust="spacingAndGlyphs">6</text>
<line x1="633.3" y1="361.92" x2="636.5" y2="361.92" stroke="#333" stroke-width="1"/>
<text x="632.4" y="365.32" font-size="10.22" fill="#1a1a1a" text-anchor="end" textLength="5.34" lengthAdjust="spacingAndGlyphs">8</text>
<line x1="633.3" y1="348.3" x2="636.5" y2="348.3" stroke="#333" stroke-width="1"/>
<text x="632.4" y="351.7" font-size="10.22" fill="#1a1a1a" text-anchor="end" textLength="10.68" lengthAdjust="spacingAndGlyphs">10</text>
<line x1="648.8" y1="416.4" x2="648.8" y2="419.5" stroke="#333" stroke-width="1"/>
<line x1="666.8" y1="416.4" x2="666.8" y2="419.5" stroke="#333" stroke-width="1"/>
<rect x="642.8" y="369.41" width="12" height="46.99" fill="#fb2a12" stroke="#222" stroke-width="1"/>
<rect x="660.8" y="392.56" width="12" height="23.83" fill="#2a16ff" stroke="#222" stroke-width="1"/>
<line x1="648.8" y1="372.82" x2="648.8" y2="365.32" stroke="#111" stroke-width="1"/>
<line x1="646.3" y1="365.32" x2="651.3" y2="365.32" stroke="#111" stroke-width="1"/>
<line x1="646.3" y1="372.82" x2="651.3" y2="372.82" stroke="#111" stroke-width="1"/>
<line x1="666.8" y1="397.33" x2="666.8" y2="387.8" stroke="#111" stroke-width="1"/>
<line x1="664.3" y1="387.8" x2="669.3" y2="387.8" stroke="#111" stroke-width="1"/>
<line x1="664.3" y1="397.33" x2="669.3" y2="397.33" stroke="#111" stroke-width="1"/>
<path d="M648.3 345.3 L648.3 342.9 L665.3 342.9 L665.3 345.3" fill="none" stroke="#222" stroke-width="0.9"/>
<text x="656.8" y="343.51" font-size="9" fill="#1a1a1a" text-anchor="middle">**</text>
<circle cx="652.3" cy="363.7" r="1.6" fill="#000"/>
<circle cx="648" cy="366.7" r="1.6" fill="#000"/>
<circle cx="648" cy="371.3" r="1.6" fill="#000"/>
<circle cx="648" cy="375.8" r="1.6" fill="#000"/>
<rect x="664.55" y="379.35" width="2.9" height="2.9" fill="#000"/>
<rect x="668.75" y="393.55" width="2.9" height="2.9" fill="#000"/>
<rect x="664.55" y="399.35" width="2.9" height="2.9" fill="#000"/>
<rect x="660.85" y="393.25" width="2.9" height="2.9" fill="#000"/>
<text x="-0.45" y="0" font-size="10.37" fill="#1a1a1a" textLength="50.12" lengthAdjust="spacingAndGlyphs" transform="translate(606.6 406.8) rotate(-90)"><tspan font-size="10.37">Granzyme B</tspan></text>
<text x="-0.59" y="0" font-size="10.37" fill="#1a1a1a" textLength="50.71" lengthAdjust="spacingAndGlyphs" transform="translate(619.6 404.7) rotate(-90)"><tspan font-size="10.37">(MFI; x 10</tspan><tspan font-size="6.4" dy="-3.01">4</tspan><tspan font-size="10.37" dy="3.01">)</tspan></text>
<rect x="504.7" y="428.8" width="7.5" height="7.5" fill="#fb2a12" stroke="#222" stroke-width="0.9"/>
<text x="515.8" y="436.3" font-size="10.98" fill="#fa2a1c" textLength="64.91" lengthAdjust="spacingAndGlyphs"><tspan font-size="6.4" dy="-2.9">Allo</tspan><tspan font-size="10.98" dy="2.9">CAR70-NKT</tspan></text>
<rect x="591.5" y="429.2" width="7" height="7.1" fill="#2a16ff" stroke="#222" stroke-width="0.9"/>
<text x="605.24" y="436.3" font-size="10.98" fill="#2a2aff" textLength="71.77" lengthAdjust="spacingAndGlyphs"><tspan font-size="6.4" dy="-2.9">PBMC</tspan><tspan font-size="10.98" dy="2.9">CAR70-NKT</tspan></text>
</svg>
</body></html>
